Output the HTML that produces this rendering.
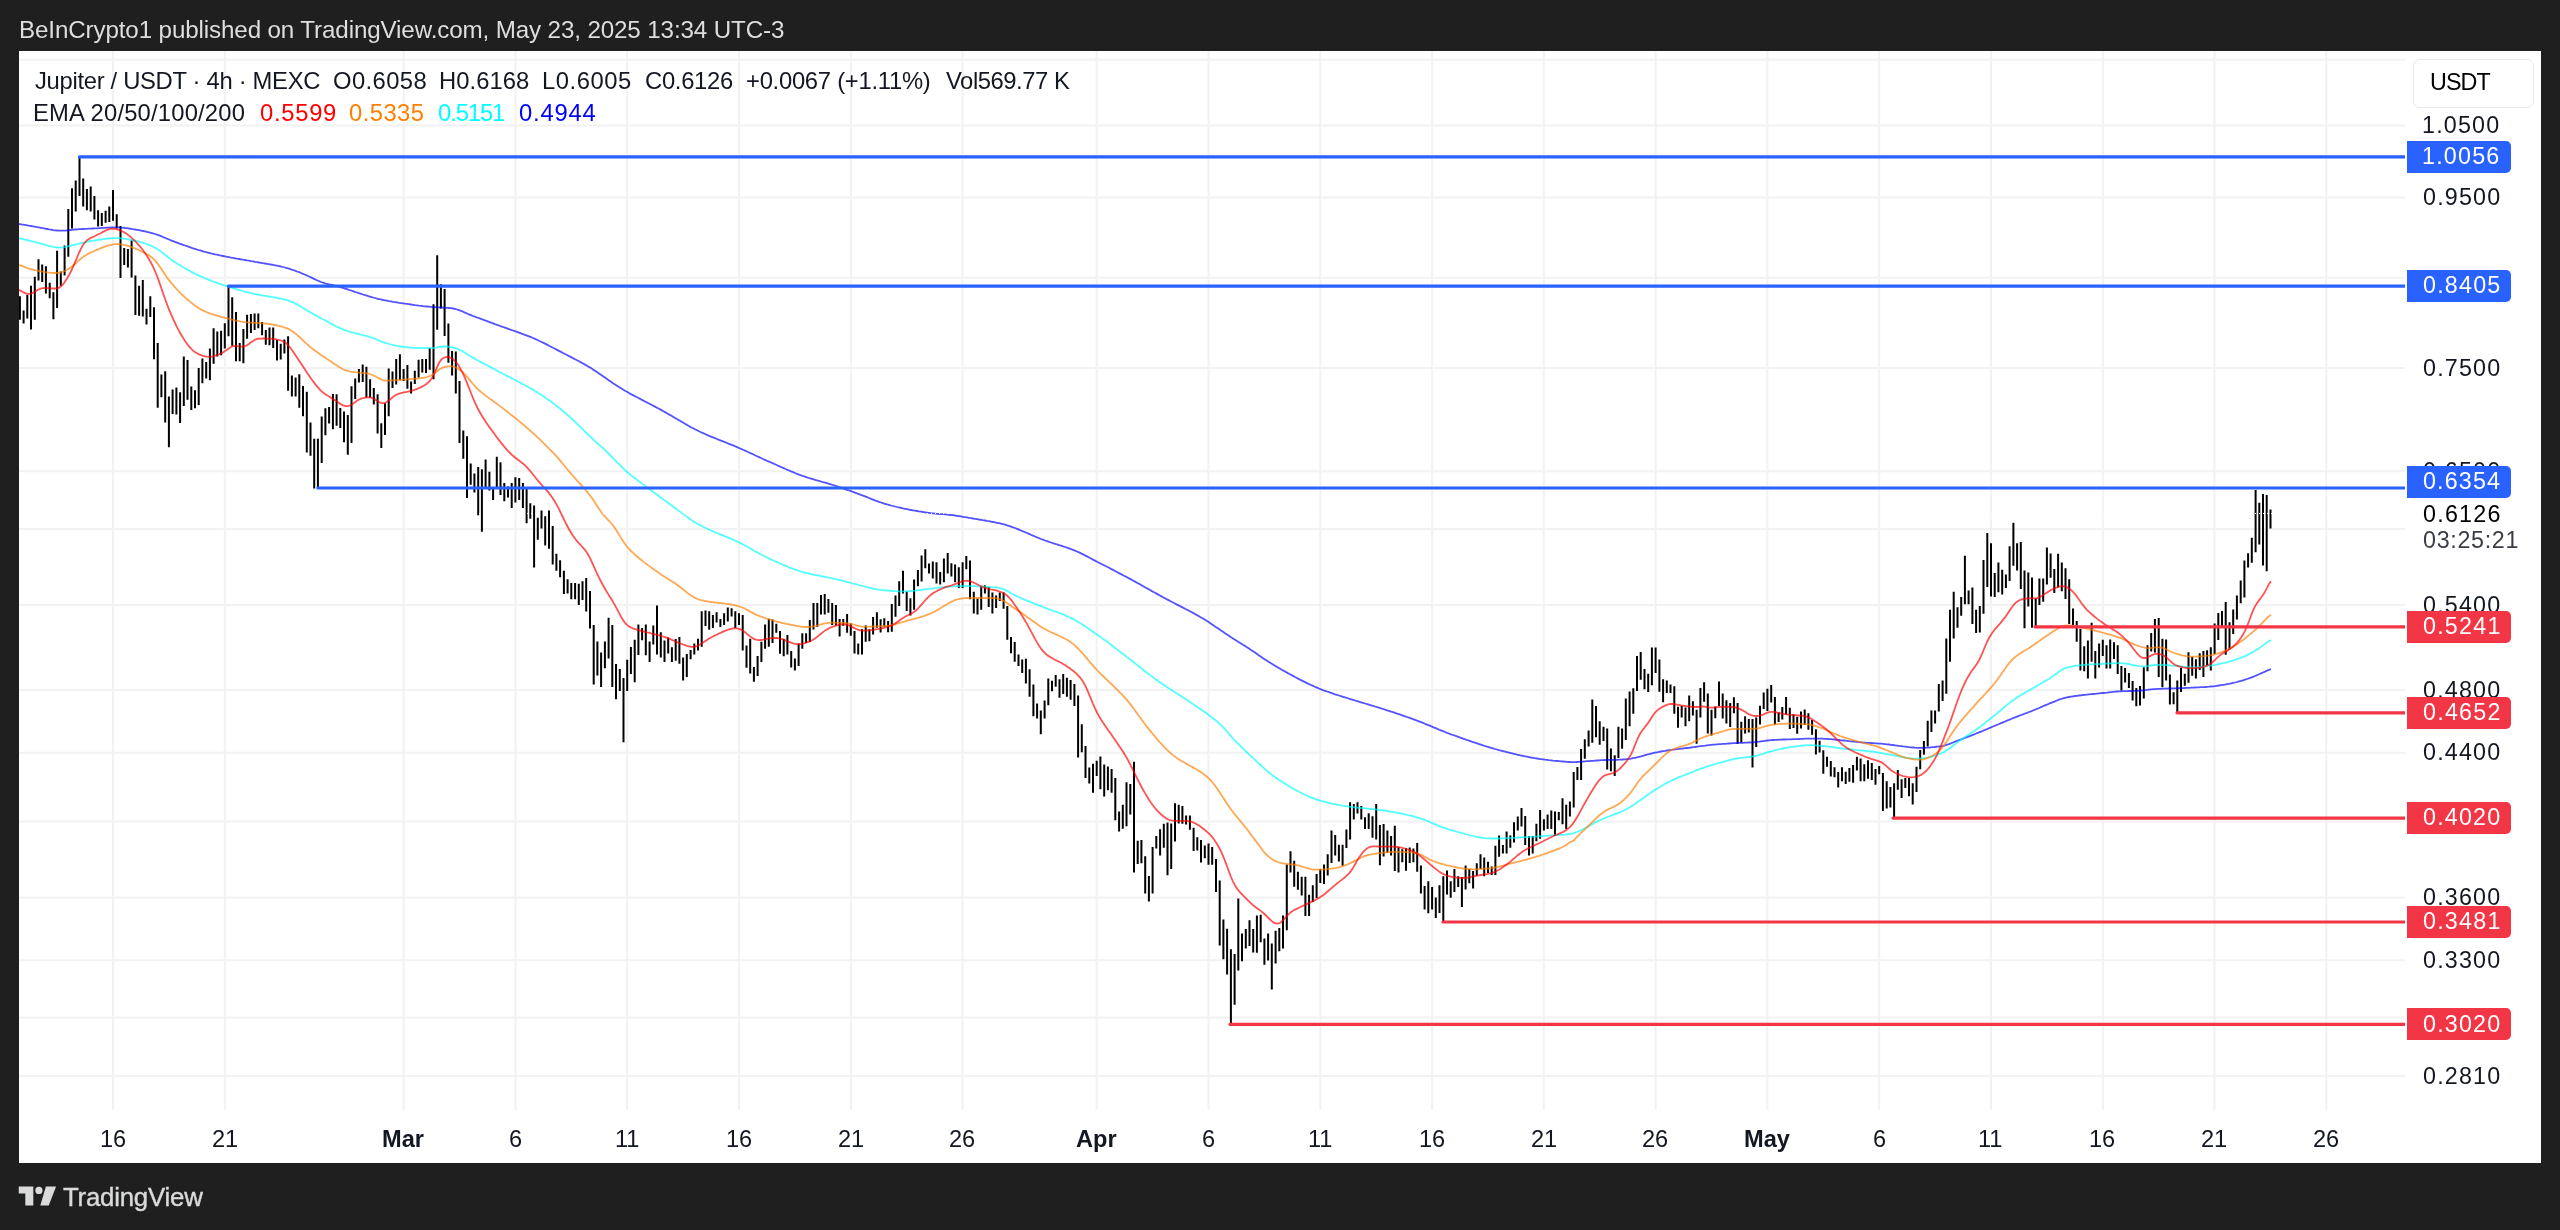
<!DOCTYPE html><html><head><meta charset="utf-8"><style>
*{margin:0;padding:0;box-sizing:border-box}
html,body{width:2560px;height:1230px;overflow:hidden;background:#1f1f1f}
body{position:relative;font-family:"Liberation Sans",sans-serif}
.t{position:absolute;white-space:pre;line-height:1;will-change:transform}
#pane{position:absolute;left:19px;top:51px;width:2522px;height:1112px;background:#fff}
.lab{position:absolute;left:2407px;width:104px;height:32px;border-radius:0 5px 5px 0}
</style></head><body>
<div id="pane"></div>

<div class="t" style="left:18.90px;top:18.31px;font-size:24.2px;letter-spacing:-0.132px;color:#dedede;">BeInCrypto1 published on TradingView.com, May 23, 2025 13:34 UTC-3</div>
<svg width="2560" height="1230" style="position:absolute;left:0;top:0">
<defs><clipPath id="cp"><rect x="19" y="51" width="2386" height="1059"/></clipPath></defs>
<path d="M19 59.8H2405 M19 125.4H2405 M19 197.6H2405 M19 277.8H2405 M19 368.1H2405 M19 471.3H2405 M19 529H2405 M19 605H2405 M19 689.9H2405 M19 752.7H2405 M19 821.4H2405 M19 897.4H2405 M19 960.2H2405 M19 1017.4H2405 M19 1076.1H2405 M113 51V1110 M224.8 51V1110 M403.7 51V1110 M515.5 51V1110 M627.2 51V1110 M739 51V1110 M850.8 51V1110 M962.6 51V1110 M1096.7 51V1110 M1208.5 51V1110 M1320.3 51V1110 M1432.1 51V1110 M1543.8 51V1110 M1655.6 51V1110 M1767.4 51V1110 M1879.2 51V1110 M1991 51V1110 M2102.8 51V1110 M2214.5 51V1110 M2326.3 51V1110" stroke="#f2f2f2" stroke-width="2" fill="none"/>
<g clip-path="url(#cp)">
<path d="M19.9 296.2V319.7 M23.6 310.6V323.6 M27.3 294.9V318.4 M31 285.8V329.6 M34.8 276.7V319.7 M38.5 259.3V280.6 M42.2 264.5V281.9 M45.9 266.3V293.6 M49.7 282.7V298.3 M53.4 292.3V319.2 M57.1 250.7V308 M60.8 271.5V285.8 M64.6 245.5V275.4 M68.3 209V256.7 M72 188.2V228.5 M75.7 180.4V211.6 M79.5 156.1V196 M83.2 178.5V206.4 M86.9 189V210.3 M90.7 186.4V211.6 M94.4 196V219.4 M98.1 210.3V226.5 M101.8 212.9V225.9 M105.6 210.8V222.8 M109.3 206.4V222 M113 190V220.7 M116.7 214.2V228.5 M120.5 225.9V278 M124.2 248.1V265 M127.9 248.9V267.6 M131.6 240.3V277.5 M135.4 275.4V315 M139.1 285.8V315.8 M142.8 280.1V316.6 M146.5 308.8V324.4 M150.3 296.2V317.1 M154 307.2V359.3 M157.7 343.1V407.7 M161.4 374.4V397.3 M165.2 371.2V422.6 M168.9 396.5V447.3 M172.6 389.5V414 M176.4 387.5V414.6 M180.1 392.3V423 M183.8 356.4V406 M187.5 360V399.7 M191.3 386.6V409.9 M195 390.2V408.2 M198.7 368V405 M202.4 358.5V383.2 M206.2 362.1V378.6 M209.9 348.5V380.3 M213.6 328.2V363.8 M217.3 331.6V356.4 M221.1 330.8V355.3 M224.8 323.2V348.5 M228.5 286V336.3 M232.2 297.2V345.8 M236 312V361.2 M239.7 343V361.2 M243.4 328.9V363.3 M247.1 314.7V338.8 M250.9 314.1V333.1 M254.6 313.4V329.9 M258.3 313.4V328.2 M262.1 321.9V335.2 M265.8 329.9V344.7 M269.5 327.4V345.2 M273.2 327.4V347.9 M277 340.1V360.6 M280.7 343.7V359.5 M284.4 339.5V353.6 M288.1 336.3V390.8 M291.9 375.4V396.5 M295.6 377.5V396.5 M299.3 374.3V407.7 M303 386V416.2 M306.8 391.7V452.6 M310.5 422.5V455.7 M314.2 438.8V488.5 M317.9 438.8V488.5 M321.7 416.6V463.1 M325.4 408.2V435.2 M329.1 407.1V423.4 M332.9 394.1V429.3 M336.6 394.3V425.7 M340.3 408V428.1 M344 411.6V442.2 M347.8 415.1V454.7 M351.5 386.3V442.9 M355.2 378.5V399.1 M358.9 369.1V382.5 M362.7 364.4V382.1 M366.4 366.7V397.4 M370.1 379.2V397.4 M373.8 388V404.5 M377.6 394.3V433.5 M381.3 423.3V448.1 M385 403.3V435.1 M388.7 368.4V416.3 M392.5 371.5V388 M396.2 359V384.4 M399.9 354.2V380.2 M403.6 369.1V380.9 M407.4 365.1V388.7 M411.1 381.6V393.4 M414.8 370.8V384 M418.6 359.7V377.4 M422.3 359V372.6 M426 359V373.1 M429.7 347.9V369.8 M433.5 304.2V379.2 M437.2 255.2V329.7 M440.9 284.2V308.5 M444.6 288.9V336.1 M448.4 323.6V362.7 M452.1 350.9V375.5 M455.8 351.4V393.4 M459.5 380.9V442.9 M463.3 430.4V458.7 M467 436.3V498.1 M470.7 463.4V484.7 M474.4 473.6V492.5 M478.2 467V515.3 M481.9 469.3V531.8 M485.6 459.4V488.7 M489.4 471.8V490.4 M493.1 487.8V500 M496.8 456.8V489 M500.5 462.2V495.1 M504.3 482.9V501.2 M508 486.6V497.6 M511.7 482.9V508 M515.4 477.3V502.4 M519.2 478V500 M522.9 482.9V508 M526.6 487.8V523.2 M530.3 503.2V518.8 M534.1 505.6V567.6 M537.8 517.8V539.8 M541.5 510.5V528.5 M545.2 516.3V545.6 M549 510.5V548.8 M552.7 526.1V564.6 M556.4 553.7V570.7 M560.1 560.2V577.3 M563.9 570.7V593.9 M567.6 579.3V593.4 M571.3 582.9V599.3 M575.1 582.9V599.3 M578.8 583.7V604.9 M582.5 581.2V600 M586.2 578V611.5 M590 591V628.5 M593.7 625.1V684.6 M597.4 641.5V675.6 M601.1 652.4V687.1 M604.9 641.5V668.3 M608.6 617.8V658.5 M612.3 625.1V687.1 M616 664.1V699.3 M619.8 669V691 M623.5 678V742.2 M627.2 659.8V691 M630.9 647.1V673.9 M634.7 639.8V682.2 M638.4 624.4V654.9 M642.1 628V640.2 M645.8 624.4V655.2 M649.6 641.5V662 M653.3 625.4V644.4 M657 605.6V654.6 M660.8 632.2V657.6 M664.5 640.5V662 M668.2 637.6V653.4 M671.9 647.3V662 M675.7 639V660.8 M679.4 637.1V663.7 M683.1 657.6V680.5 M686.8 654.1V677.1 M690.6 650V659.2 M694.3 643.4V654.6 M698 638.7V650.4 M701.7 611.2V646.8 M705.5 610.4V625.9 M709.2 611.2V629.8 M712.9 615.1V628 M716.6 612.2V622.4 M720.4 619V627 M724.1 613.2V625.1 M727.8 607.5V621.5 M731.6 608.3V616.6 M735.3 611.2V628 M739 613.2V625.1 M742.7 615.1V650.4 M746.5 645.4V667.8 M750.2 638.7V673.5 M753.9 667V681.7 M757.6 655.9V676.1 M761.4 641.7V662 M765.1 624.4V648.8 M768.8 618.8V646.8 M772.5 619.5V642.9 M776.3 623.7V632.7 M780 630.9V653.7 M783.7 638.7V656.3 M787.4 635.1V654.6 M791.2 651V667.6 M794.9 658.5V670.5 M798.6 643.4V665.9 M802.3 633.2V648.8 M806.1 633.2V642.9 M809.8 620V642 M813.5 602.9V629.6 M817.3 602.9V626.8 M821 595.1V614.6 M824.7 594.1V614.6 M828.4 599V612.7 M832.2 602.9V625.1 M835.9 604.9V625.4 M839.6 619V636.4 M843.3 619V625.7 M847.1 614.1V632.7 M850.8 623.4V635.8 M854.5 630.9V653.4 M858.2 643.4V654.6 M862 629.3V654.6 M865.7 625.4V641.7 M869.4 629.3V641.3 M873.1 617.1V634.4 M876.9 612.2V627.8 M880.6 619.2V632.5 M884.3 618.2V626.8 M888.1 621.1V632.3 M891.8 604V631.7 M895.5 595.5V616.7 M899.2 581.3V605.9 M903 570.7V593.6 M906.7 591.5V610.9 M910.4 598.2V615.4 M914.1 579.5V609.8 M917.9 570V586.2 M921.6 555.6V581.6 M925.3 549.2V568.3 M929 563.6V573.6 M932.8 561.5V578.6 M936.5 562.2V583.4 M940.2 572.1V584.4 M943.9 558.5V582.3 M947.7 553V573.6 M951.4 563.3V576.5 M955.1 564.4V582.3 M958.8 567.2V587.9 M962.6 562.2V587.9 M966.3 555.9V569.3 M970 560.4V599.2 M973.8 591.8V613.5 M977.5 598.5V614.6 M981.2 586.2V609.8 M984.9 585.2V593.6 M988.7 587.1V607 M992.4 592.6V613.5 M996.1 595.5V608 M999.8 592.4V601 M1003.6 592.6V608.8 M1007.3 605.9V639.7 M1011 637V653.3 M1014.7 641.9V661.7 M1018.5 654.5V666 M1022.2 659.6V672.9 M1025.9 658.8V683.5 M1029.6 669.3V696.8 M1033.4 684.6V716.3 M1037.1 703.6V718.4 M1040.8 710.4V734.2 M1044.6 700.4V718.4 M1048.3 678.6V705.3 M1052 680.8V691.3 M1055.7 675.1V686.7 M1059.5 679.3V697.7 M1063.2 674V694.1 M1066.9 677.8V696.8 M1070.6 679.9V699.8 M1074.4 684.1V706.1 M1078.1 695.6V757.5 M1081.8 724.3V752.2 M1085.5 745.9V778 M1089.3 767.4V783.5 M1093 763.8V792.8 M1096.7 760.7V775.9 M1100.4 756.4V789.2 M1104.2 764.5V796.6 M1107.9 766.6V790.3 M1111.6 769.1V792.8 M1115.3 778V820.3 M1119.1 811.4V831.5 M1122.8 804.7V828.8 M1126.5 782.2V826.2 M1130.3 783.9V814.6 M1134 761.7V872.5 M1137.7 840.8V864 M1141.4 839.9V863.2 M1145.2 856.2V893.6 M1148.9 875.9V901.6 M1152.6 847.1V893.6 M1156.3 836.1V848.4 M1160.1 829.3V855.6 M1163.8 823.8V847.7 M1167.5 822.4V875.2 M1171.2 823.4V868.9 M1175 803.3V841.4 M1178.7 804.8V823.4 M1182.4 806.1V823.8 M1186.1 815.4V824.5 M1189.9 815.4V829.8 M1193.6 827.7V850.9 M1197.3 837.2V850.5 M1201 839.9V862.5 M1204.8 845.6V858.3 M1208.5 843.5V864.7 M1212.2 847.1V864.7 M1216 858.9V892.1 M1219.7 880.5V945.6 M1223.4 919.6V959.2 M1227.1 928.7V974.6 M1230.9 949.2V1023 M1234.6 954.1V1004.8 M1238.3 898.5V970.4 M1242 933.4V961.3 M1245.8 929.1V948.6 M1249.5 920.3V946 M1253.2 929.1V952.4 M1256.9 915.4V952.8 M1260.7 914.8V942.2 M1264.4 938.6V964.7 M1268.1 933.4V960.4 M1271.8 943.5V989.4 M1275.6 930.8V963.4 M1279.3 928.1V951.3 M1283 915.4V948.6 M1286.8 864.6V930.3 M1290.5 851.3V872.5 M1294.2 860.8V886.8 M1297.9 871.8V889.7 M1301.7 876.7V895.6 M1305.4 876.7V916 M1309.1 894.8V916 M1312.8 885.3V902 M1316.6 874V898.1 M1320.3 869.3V883.1 M1324 864.6V883.9 M1327.7 854.2V875.4 M1331.5 830.4V863 M1335.2 835V855.6 M1338.9 844.7V861.4 M1342.6 844.7V865.7 M1346.4 829.5V848 M1350.1 802.3V839.6 M1353.8 804.1V819.4 M1357.5 802.3V813.6 M1361.3 805.9V819.6 M1365 817.2V829 M1368.7 813.3V829 M1372.5 816.3V837.7 M1376.2 804.1V839.6 M1379.9 824.9V865.2 M1383.6 824V856.4 M1387.4 830.4V852.8 M1391.1 836.1V855.6 M1394.8 825.7V871 M1398.5 847.3V872.5 M1402.3 849.3V862.2 M1406 848.2V870.7 M1409.7 847.6V863 M1413.4 848.4V862.2 M1417.2 842.9V871.8 M1420.9 865.5V893.4 M1424.6 886V909.4 M1428.3 881.3V913.2 M1432.1 887.1V909.4 M1435.8 897.6V917.9 M1439.5 885.3V912.9 M1443.3 876.3V922.2 M1447 870.5V894.5 M1450.7 881.2V897.8 M1454.4 869.1V892 M1458.2 876.3V887.1 M1461.9 876.9V907 M1465.6 865.6V889.4 M1469.3 869.1V883.2 M1473.1 871.1V888.6 M1476.8 863.3V875.8 M1480.5 854.3V869.1 M1484.2 857.4V876.3 M1488 861.7V873 M1491.7 866.6V875 M1495.4 845.7V875 M1499.1 835.4V856.8 M1502.9 845.1V853.5 M1506.6 831.5V853.5 M1510.3 835.4V847.7 M1514 822.3V842.6 M1517.8 816.4V830.5 M1521.5 808V826.6 M1525.2 815.9V845.1 M1529 836V855.5 M1532.7 836V853.5 M1536.4 823.7V841.2 M1540.1 810V838.7 M1543.9 819.2V830.5 M1547.6 814.5V828.9 M1551.3 810.6V828.9 M1555 811.4V836 M1558.8 812V820.3 M1562.5 798.3V824.2 M1566.2 804.7V828.9 M1569.9 801.6V816.4 M1573.7 772V807.5 M1577.4 767.1V780.1 M1581.1 748.9V780.1 M1584.8 739.2V758.7 M1588.6 730.6V746.6 M1592.3 699.4V742.7 M1596 706V737.2 M1599.7 721.2V744.8 M1603.5 726.7V741 M1607.2 728.4V769.5 M1610.9 748.5V771.2 M1614.7 755.3V776.1 M1618.4 726.7V758 M1622.1 728.4V748.7 M1625.8 698.4V740.1 M1629.6 691.6V726.2 M1633.3 688.3V713.8 M1637 655.9V691 M1640.7 652.1V679.7 M1644.5 669.1V689.2 M1648.2 673.8V692.1 M1651.9 647.5V685.2 M1655.6 647.5V672.9 M1659.4 659.5V691.8 M1663.1 679.3V702.3 M1666.8 680.4V692.9 M1670.5 684.5V692.9 M1674.3 686.3V713.8 M1678 706.7V727.8 M1681.7 706.1V717.4 M1685.5 707.5V726.2 M1689.2 695.4V721.2 M1692.9 701.3V715.5 M1696.6 709.7V743.7 M1700.4 688.1V717.4 M1704.1 682.3V701.7 M1707.8 693.6V733.5 M1711.5 709.7V735.5 M1715.3 706.4V718.2 M1719 681.5V705.9 M1722.7 693.6V718.5 M1726.4 700.2V723.4 M1730.2 703.1V726.9 M1733.9 697.3V713.3 M1737.6 703.1V743.7 M1741.3 721.8V742.6 M1745.1 716.3V733.5 M1748.8 719V732.4 M1752.5 719V767.6 M1756.2 717.4V747 M1760 705.7V724.6 M1763.7 692.4V708.9 M1767.4 688.8V710.9 M1771.2 685V702.6 M1774.9 697.1V724.6 M1778.6 712.4V721.9 M1782.3 706.9V719.5 M1786.1 697.1V714.4 M1789.8 707.7V728.9 M1793.5 714.2V728.1 M1797.2 716.8V733.7 M1801 711.6V728.6 M1804.7 709.5V725 M1808.4 713.3V729.8 M1812.1 719.9V734.8 M1815.9 729.3V754.5 M1819.6 740.7V752.5 M1823.3 750.2V773.8 M1827 756.7V766.7 M1830.8 761.1V776.5 M1834.5 767.3V777.3 M1838.2 772V787.5 M1842 767.3V781.2 M1845.7 771.7V784 M1849.4 767.9V781.7 M1853.1 765.1V782.8 M1856.9 756.7V770.6 M1860.6 758.4V781.2 M1864.3 764.3V781.2 M1868 760.2V778.8 M1871.8 763.1V780 M1875.5 769V784.7 M1879.2 766.1V774.3 M1882.9 772.9V811.1 M1886.7 781.2V808.5 M1890.4 787.1V807.6 M1894.1 783.2V817.7 M1897.8 769.9V789.7 M1901.6 779.3V797.9 M1905.3 778.1V787.9 M1909 778.1V796.2 M1912.7 783.2V804.4 M1916.5 766.8V792 M1920.2 750V769.2 M1923.9 740.9V754.8 M1927.7 720.8V746.4 M1931.4 710.4V732 M1935.1 710.4V723.6 M1938.8 684.1V711.6 M1942.6 680.5V700.9 M1946.3 638.5V693.7 M1950 609.7V661.8 M1953.7 591.7V638.5 M1957.5 607.3V627.7 M1961.2 597V615.7 M1964.9 555.8V604.2 M1968.6 590.5V604.2 M1972.4 587.4V624.1 M1976.1 609.7V633 M1979.8 606.1V632.5 M1983.5 560.1V613.8 M1987.3 533V586.9 M1991 543.3V596.5 M1994.7 573V597 M1998.4 562.5V592.2 M2002.2 569.7V594.6 M2005.9 574.5V588.1 M2009.6 546.2V580.9 M2013.4 522.7V565.8 M2017.1 543.3V570.6 M2020.8 541.9V588.9 M2024.5 570.6V628.2 M2028.3 572.6V606.6 M2032 577.4V627.7 M2035.7 598.5V627.2 M2039.4 578.5V604.9 M2043.2 578.5V601.8 M2046.9 547.4V584.5 M2050.6 553.4V577.8 M2054.3 569V592.9 M2058.1 553.8V587.4 M2061.8 562.5V591.3 M2065.5 568.2V598.9 M2069.2 579.3V624.1 M2073 608.5V625.4 M2076.7 620.9V641.8 M2080.4 628.9V670.5 M2084.2 646.2V671.2 M2087.9 640.5V678.6 M2091.6 622.8V661.7 M2095.3 651.1V678.6 M2099.1 643.4V667.4 M2102.8 639.7V656.1 M2106.5 645.2V668.4 M2110.2 639.5V668.4 M2114 642.3V658.9 M2117.7 645.2V674 M2121.4 665.9V690.6 M2125.1 668V682.5 M2128.9 673V688.1 M2132.6 681.1V700.5 M2136.3 688.1V706.3 M2140 686V705.4 M2143.8 667.2V698.4 M2147.5 645.2V671.2 M2151.2 633.1V651.5 M2154.9 619.1V652.6 M2158.7 618V676.9 M2162.4 638.8V687.3 M2166.1 639.5V680.4 M2169.9 674.6V704.4 M2173.6 692.3V704.2 M2177.3 680.4V713.2 M2181 667.7V692 M2184.8 673.7V685.7 M2188.5 652.2V682.8 M2192.2 656.8V675.8 M2195.9 659.2V678.6 M2199.7 653.2V670.1 M2203.4 651.1V676.9 M2207.1 650.3V665.3 M2210.8 647.3V670.5 M2214.6 623.6V654 M2218.3 613V639.9 M2222 611.1V627.5 M2225.7 602.1V654.7 M2229.5 622.2V649.3 M2233.2 609.4V634.1 M2236.9 595.5V619.6 M2240.7 580.5V603.2 M2244.4 560.4V597.5 M2248.1 553.2V567.4 M2251.8 537.7V562.7 M2255.6 490.1V552.2 M2259.3 502.8V544.5 M2263 494V565.5 M2266.7 495V571.2 M2270.5 509.4V528.4" stroke="#000" stroke-width="2" fill="none"/>
<path d="M19 224 L21 224.3 L23 224.6 L25 224.9 L27 225.3 L29 225.7 L31 226 L33 226.4 L35 226.7 L37 227.1 L39 227.4 L41 227.8 L43 228.2 L45 228.6 L47 229 L49 229.4 L51 229.7 L53 230.1 L55 230.3 L57 230.5 L59 230.7 L61 230.7 L63 230.7 L65 230.6 L67 230.4 L69 230.2 L71 230 L73 229.7 L75 229.5 L77 229.3 L79 229.2 L81 229.1 L83 229 L85 228.9 L87 228.8 L89 228.7 L91 228.6 L93 228.5 L95 228.4 L97 228.3 L99 228.2 L101 228.1 L103 227.9 L105 227.8 L107 227.7 L109 227.6 L111 227.5 L113 227.4 L115 227.4 L117 227.4 L119 227.4 L121 227.6 L123 227.7 L125 228 L127 228.2 L129 228.5 L131 228.8 L133 229.2 L135 229.5 L137 229.8 L139 230.2 L141 230.6 L143 231 L145 231.4 L147 231.9 L149 232.4 L151 232.9 L153 233.4 L155 234 L157 234.7 L159 235.4 L161 236.2 L163 237 L165 237.8 L167 238.7 L169 239.5 L171 240.3 L173 241.1 L175 241.9 L177 242.6 L179 243.4 L181 244.1 L183 244.8 L185 245.5 L187 246.2 L189 246.9 L191 247.6 L193 248.3 L195 248.9 L197 249.5 L199 250.2 L201 250.7 L203 251.3 L205 251.9 L207 252.4 L209 252.9 L211 253.4 L213 253.8 L215 254.3 L217 254.7 L219 255.2 L221 255.6 L223 256 L225 256.4 L227 256.8 L229 257.2 L231 257.6 L233 257.9 L235 258.3 L237 258.7 L239 259 L241 259.3 L243 259.7 L245 260 L247 260.4 L249 260.7 L251 261.1 L253 261.4 L255 261.8 L257 262.1 L259 262.5 L261 262.8 L263 263.2 L265 263.5 L267 263.8 L269 264.2 L271 264.5 L273 264.9 L275 265.3 L277 265.7 L279 266.1 L281 266.5 L283 267 L285 267.5 L287 268.1 L289 268.7 L291 269.3 L293 270 L295 270.7 L297 271.5 L299 272.2 L301 273 L303 273.8 L305 274.7 L307 275.5 L309 276.5 L311 277.4 L313 278.4 L315 279.4 L317 280.3 L319 281.2 L321 282 L323 282.7 L325 283.3 L327 283.8 L329 284.3 L331 284.6 L333 285.1 L335 285.6 L337 286.1 L339 286.7 L341 287.3 L343 287.9 L345 288.6 L347 289.2 L349 289.9 L351 290.5 L353 291.2 L355 291.9 L357 292.5 L359 293.2 L361 293.8 L363 294.5 L365 295.1 L367 295.7 L369 296.4 L371 296.9 L373 297.5 L375 298 L377 298.6 L379 299 L381 299.5 L383 299.9 L385 300.3 L387 300.7 L389 301.1 L391 301.4 L393 301.8 L395 302.1 L397 302.4 L399 302.8 L401 303.1 L403 303.4 L405 303.7 L407 303.9 L409 304.2 L411 304.5 L413 304.8 L415 305.1 L417 305.3 L419 305.6 L421 305.8 L423 306.1 L425 306.3 L427 306.5 L429 306.7 L431 306.9 L433 307.1 L435 307.2 L437 307.3 L439 307.4 L441 307.5 L443 307.6 L445 307.7 L447 307.8 L449 308 L451 308.2 L453 308.5 L455 308.9 L457 309.5 L459 310.1 L461 310.9 L463 311.7 L465 312.6 L467 313.5 L469 314.4 L471 315.2 L473 316 L475 316.7 L477 317.5 L479 318.2 L481 318.9 L483 319.7 L485 320.4 L487 321.1 L489 321.9 L491 322.6 L493 323.3 L495 324.1 L497 324.8 L499 325.5 L501 326.3 L503 327 L505 327.7 L507 328.4 L509 329.1 L511 329.8 L513 330.5 L515 331.2 L517 331.9 L519 332.6 L521 333.4 L523 334.1 L525 334.8 L527 335.6 L529 336.4 L531 337.2 L533 338 L535 338.9 L537 339.8 L539 340.7 L541 341.7 L543 342.6 L545 343.6 L547 344.6 L549 345.7 L551 346.7 L553 347.8 L555 348.8 L557 349.9 L559 350.9 L561 351.9 L563 353 L565 354 L567 355 L569 356.1 L571 357.1 L573 358.1 L575 359.2 L577 360.2 L579 361.3 L581 362.4 L583 363.5 L585 364.6 L587 365.7 L589 366.9 L591 368.1 L593 369.4 L595 370.7 L597 372 L599 373.4 L601 374.8 L603 376.2 L605 377.6 L607 379 L609 380.4 L611 381.8 L613 383.2 L615 384.5 L617 385.8 L619 387.1 L621 388.3 L623 389.5 L625 390.7 L627 391.8 L629 393 L631 394.1 L633 395.1 L635 396.2 L637 397.3 L639 398.3 L641 399.4 L643 400.4 L645 401.5 L647 402.5 L649 403.5 L651 404.5 L653 405.6 L655 406.6 L657 407.7 L659 408.8 L661 409.9 L663 411 L665 412.1 L667 413.2 L669 414.4 L671 415.5 L673 416.7 L675 417.9 L677 419.1 L679 420.3 L681 421.4 L683 422.6 L685 423.8 L687 424.9 L689 426.1 L691 427.2 L693 428.2 L695 429.3 L697 430.3 L699 431.3 L701 432.2 L703 433.1 L705 434 L707 434.9 L709 435.8 L711 436.6 L713 437.4 L715 438.2 L717 439 L719 439.8 L721 440.6 L723 441.4 L725 442.2 L727 443 L729 443.8 L731 444.6 L733 445.4 L735 446.2 L737 447.1 L739 448 L741 448.8 L743 449.7 L745 450.6 L747 451.5 L749 452.5 L751 453.4 L753 454.3 L755 455.3 L757 456.2 L759 457.1 L761 458 L763 459 L765 459.9 L767 460.8 L769 461.6 L771 462.5 L773 463.4 L775 464.3 L777 465.2 L779 466.1 L781 467 L783 467.9 L785 468.8 L787 469.7 L789 470.5 L791 471.4 L793 472.2 L795 473 L797 473.8 L799 474.6 L801 475.3 L803 476 L805 476.7 L807 477.4 L809 478 L811 478.6 L813 479.2 L815 479.8 L817 480.4 L819 480.9 L821 481.5 L823 482.1 L825 482.6 L827 483.2 L829 483.8 L831 484.4 L833 485 L835 485.7 L837 486.3 L839 487 L841 487.7 L843 488.4 L845 489.1 L847 489.8 L849 490.5 L851 491.2 L853 491.9 L855 492.6 L857 493.4 L859 494.1 L861 494.9 L863 495.6 L865 496.4 L867 497.2 L869 498 L871 498.8 L873 499.6 L875 500.4 L877 501.1 L879 501.9 L881 502.5 L883 503.2 L885 503.8 L887 504.4 L889 504.9 L891 505.5 L893 506 L895 506.5 L897 507 L899 507.5 L901 507.9 L903 508.4 L905 508.8 L907 509.2 L909 509.6 L911 510 L913 510.4 L915 510.7 L917 511 L919 511.4 L921 511.7 L923 512 L925 512.3 L927 512.6 L929 512.9 L931 513.2 L933 513.4 L935 513.6 L937 513.8 L939 514 L941 514.1 L943 514.2 L945 514.4 L947 514.6 L949 514.8 L951 515 L953 515.2 L955 515.5 L957 515.8 L959 516.1 L961 516.4 L963 516.8 L965 517.1 L967 517.4 L969 517.8 L971 518.1 L973 518.5 L975 518.8 L977 519.1 L979 519.5 L981 519.8 L983 520.2 L985 520.5 L987 520.9 L989 521.2 L991 521.6 L993 522 L995 522.4 L997 522.8 L999 523.2 L1001 523.7 L1003 524.2 L1005 524.7 L1007 525.3 L1009 525.9 L1011 526.6 L1013 527.3 L1015 528 L1017 528.8 L1019 529.6 L1021 530.5 L1023 531.3 L1025 532.2 L1027 533 L1029 533.9 L1031 534.8 L1033 535.6 L1035 536.5 L1037 537.3 L1039 538.2 L1041 539 L1043 539.7 L1045 540.5 L1047 541.2 L1049 541.9 L1051 542.5 L1053 543.2 L1055 543.8 L1057 544.4 L1059 545.1 L1061 545.7 L1063 546.3 L1065 547 L1067 547.7 L1069 548.4 L1071 549.1 L1073 549.9 L1075 550.7 L1077 551.5 L1079 552.4 L1081 553.4 L1083 554.4 L1085 555.4 L1087 556.4 L1089 557.5 L1091 558.5 L1093 559.6 L1095 560.6 L1097 561.7 L1099 562.7 L1101 563.7 L1103 564.7 L1105 565.8 L1107 566.8 L1109 567.8 L1111 568.9 L1113 569.9 L1115 571 L1117 572 L1119 573.1 L1121 574.1 L1123 575.2 L1125 576.2 L1127 577.3 L1129 578.4 L1131 579.4 L1133 580.5 L1135 581.6 L1137 582.7 L1139 583.8 L1141 584.9 L1143 586.1 L1145 587.2 L1147 588.3 L1149 589.4 L1151 590.6 L1153 591.7 L1155 592.8 L1157 593.9 L1159 595 L1161 596.1 L1163 597.2 L1165 598.3 L1167 599.4 L1169 600.4 L1171 601.5 L1173 602.5 L1175 603.5 L1177 604.6 L1179 605.6 L1181 606.6 L1183 607.6 L1185 608.7 L1187 609.7 L1189 610.7 L1191 611.8 L1193 612.9 L1195 614 L1197 615.1 L1199 616.2 L1201 617.4 L1203 618.6 L1205 619.8 L1207 621.1 L1209 622.3 L1211 623.7 L1213 625 L1215 626.4 L1217 627.7 L1219 629.1 L1221 630.5 L1223 631.8 L1225 633.2 L1227 634.5 L1229 635.8 L1231 637.2 L1233 638.4 L1235 639.7 L1237 641 L1239 642.2 L1241 643.5 L1243 644.8 L1245 646 L1247 647.3 L1249 648.6 L1251 650 L1253 651.3 L1255 652.6 L1257 654 L1259 655.4 L1261 656.8 L1263 658.2 L1265 659.5 L1267 660.8 L1269 662.1 L1271 663.3 L1273 664.5 L1275 665.7 L1277 666.9 L1279 668.1 L1281 669.2 L1283 670.4 L1285 671.5 L1287 672.6 L1289 673.7 L1291 674.8 L1293 675.9 L1295 677 L1297 678 L1299 679.1 L1301 680.1 L1303 681.1 L1305 682.1 L1307 683.1 L1309 684.1 L1311 685 L1313 685.9 L1315 686.8 L1317 687.6 L1319 688.5 L1321 689.3 L1323 690.1 L1325 690.8 L1327 691.5 L1329 692.2 L1331 692.9 L1333 693.6 L1335 694.3 L1337 694.9 L1339 695.5 L1341 696.2 L1343 696.8 L1345 697.4 L1347 698 L1349 698.7 L1351 699.3 L1353 699.9 L1355 700.5 L1357 701.1 L1359 701.7 L1361 702.3 L1363 702.9 L1365 703.5 L1367 704.1 L1369 704.7 L1371 705.3 L1373 705.9 L1375 706.5 L1377 707.1 L1379 707.7 L1381 708.4 L1383 709 L1385 709.6 L1387 710.3 L1389 710.9 L1391 711.6 L1393 712.2 L1395 712.9 L1397 713.6 L1399 714.2 L1401 714.9 L1403 715.6 L1405 716.3 L1407 717 L1409 717.7 L1411 718.4 L1413 719.1 L1415 719.8 L1417 720.6 L1419 721.4 L1421 722.1 L1423 722.9 L1425 723.8 L1427 724.6 L1429 725.4 L1431 726.2 L1433 727.1 L1435 727.9 L1437 728.7 L1439 729.6 L1441 730.4 L1443 731.2 L1445 732 L1447 732.8 L1449 733.5 L1451 734.3 L1453 735 L1455 735.7 L1457 736.4 L1459 737.2 L1461 737.9 L1463 738.6 L1465 739.3 L1467 740 L1469 740.7 L1471 741.4 L1473 742.1 L1475 742.7 L1477 743.4 L1479 744.1 L1481 744.7 L1483 745.4 L1485 746 L1487 746.6 L1489 747.2 L1491 747.8 L1493 748.4 L1495 749 L1497 749.5 L1499 750.1 L1501 750.6 L1503 751.1 L1505 751.6 L1507 752.1 L1509 752.6 L1511 753.1 L1513 753.6 L1515 754.1 L1517 754.6 L1519 755 L1521 755.5 L1523 755.9 L1525 756.3 L1527 756.7 L1529 757.1 L1531 757.5 L1533 757.8 L1535 758.2 L1537 758.5 L1539 758.8 L1541 759.1 L1543 759.4 L1545 759.7 L1547 759.9 L1549 760.2 L1551 760.4 L1553 760.7 L1555 760.9 L1557 761 L1559 761.2 L1561 761.4 L1563 761.5 L1565 761.7 L1567 761.9 L1569 762 L1571 762.1 L1573 762.1 L1575 762.1 L1577 762 L1579 761.9 L1581 761.7 L1583 761.6 L1585 761.4 L1587 761.2 L1589 761.1 L1591 760.9 L1593 760.8 L1595 760.6 L1597 760.5 L1599 760.4 L1601 760.2 L1603 760.1 L1605 760 L1607 760 L1609 759.9 L1611 759.9 L1613 759.8 L1615 759.8 L1617 759.8 L1619 759.7 L1621 759.6 L1623 759.5 L1625 759.4 L1627 759.1 L1629 758.9 L1631 758.6 L1633 758.2 L1635 757.8 L1637 757.4 L1639 756.9 L1641 756.4 L1643 755.8 L1645 755.2 L1647 754.6 L1649 754.1 L1651 753.6 L1653 753.1 L1655 752.7 L1657 752.3 L1659 751.9 L1661 751.5 L1663 751.2 L1665 750.9 L1667 750.5 L1669 750.2 L1671 749.9 L1673 749.7 L1675 749.4 L1677 749.2 L1679 748.9 L1681 748.7 L1683 748.5 L1685 748.2 L1687 748 L1689 747.8 L1691 747.5 L1693 747.2 L1695 747 L1697 746.7 L1699 746.4 L1701 746.1 L1703 745.8 L1705 745.6 L1707 745.3 L1709 745.1 L1711 744.9 L1713 744.7 L1715 744.6 L1717 744.4 L1719 744.2 L1721 744.1 L1723 743.9 L1725 743.8 L1727 743.6 L1729 743.5 L1731 743.4 L1733 743.2 L1735 743.1 L1737 743 L1739 742.9 L1741 742.8 L1743 742.8 L1745 742.7 L1747 742.6 L1749 742.5 L1751 742.4 L1753 742.3 L1755 742.1 L1757 741.9 L1759 741.7 L1761 741.4 L1763 741.1 L1765 740.8 L1767 740.5 L1769 740.3 L1771 740.1 L1773 740 L1775 739.9 L1777 739.8 L1779 739.7 L1781 739.6 L1783 739.5 L1785 739.5 L1787 739.4 L1789 739.4 L1791 739.3 L1793 739.2 L1795 739.1 L1797 739.1 L1799 739 L1801 738.9 L1803 738.8 L1805 738.7 L1807 738.7 L1809 738.6 L1811 738.6 L1813 738.6 L1815 738.6 L1817 738.6 L1819 738.6 L1821 738.6 L1823 738.7 L1825 738.8 L1827 738.8 L1829 739 L1831 739.1 L1833 739.3 L1835 739.5 L1837 739.8 L1839 740 L1841 740.3 L1843 740.5 L1845 740.7 L1847 740.9 L1849 741.2 L1851 741.4 L1853 741.5 L1855 741.7 L1857 741.9 L1859 742.1 L1861 742.3 L1863 742.5 L1865 742.6 L1867 742.8 L1869 742.9 L1871 743 L1873 743.1 L1875 743.3 L1877 743.4 L1879 743.6 L1881 743.7 L1883 743.9 L1885 744.1 L1887 744.3 L1889 744.5 L1891 744.8 L1893 745 L1895 745.3 L1897 745.6 L1899 745.9 L1901 746.1 L1903 746.4 L1905 746.6 L1907 746.8 L1909 747.1 L1911 747.3 L1913 747.5 L1915 747.7 L1917 747.8 L1919 747.9 L1921 747.9 L1923 747.9 L1925 747.8 L1927 747.7 L1929 747.6 L1931 747.4 L1933 747.2 L1935 747 L1937 746.7 L1939 746.5 L1941 746.2 L1943 745.8 L1945 745.3 L1947 744.7 L1949 744.1 L1951 743.3 L1953 742.5 L1955 741.7 L1957 740.9 L1959 740.1 L1961 739.4 L1963 738.6 L1965 737.9 L1967 737.1 L1969 736.3 L1971 735.6 L1973 734.8 L1975 734 L1977 733.2 L1979 732.4 L1981 731.6 L1983 730.8 L1985 729.9 L1987 729.1 L1989 728.2 L1991 727.4 L1993 726.5 L1995 725.7 L1997 724.8 L1999 724 L2001 723.1 L2003 722.3 L2005 721.5 L2007 720.6 L2009 719.8 L2011 719 L2013 718.1 L2015 717.4 L2017 716.6 L2019 715.8 L2021 715 L2023 714.3 L2025 713.5 L2027 712.8 L2029 712 L2031 711.3 L2033 710.5 L2035 709.7 L2037 708.8 L2039 708 L2041 707.1 L2043 706.2 L2045 705.4 L2047 704.6 L2049 703.7 L2051 702.9 L2053 702.1 L2055 701.3 L2057 700.5 L2059 699.7 L2061 699 L2063 698.4 L2065 697.8 L2067 697.4 L2069 697 L2071 696.6 L2073 696.3 L2075 696 L2077 695.8 L2079 695.5 L2081 695.3 L2083 695 L2085 694.8 L2087 694.6 L2089 694.4 L2091 694.2 L2093 694 L2095 693.8 L2097 693.6 L2099 693.4 L2101 693.2 L2103 693 L2105 692.8 L2107 692.6 L2109 692.3 L2111 692.1 L2113 691.9 L2115 691.7 L2117 691.5 L2119 691.4 L2121 691.3 L2123 691.2 L2125 691.1 L2127 691.1 L2129 691 L2131 691 L2133 690.9 L2135 690.8 L2137 690.8 L2139 690.6 L2141 690.5 L2143 690.3 L2145 690.1 L2147 689.9 L2149 689.6 L2151 689.4 L2153 689.2 L2155 689.1 L2157 688.9 L2159 688.8 L2161 688.8 L2163 688.7 L2165 688.7 L2167 688.6 L2169 688.5 L2171 688.5 L2173 688.4 L2175 688.4 L2177 688.3 L2179 688.2 L2181 688.2 L2183 688.1 L2185 688 L2187 687.9 L2189 687.8 L2191 687.7 L2193 687.6 L2195 687.5 L2197 687.4 L2199 687.3 L2201 687.2 L2203 687.1 L2205 687 L2207 686.8 L2209 686.7 L2211 686.5 L2213 686.3 L2215 686.1 L2217 685.8 L2219 685.5 L2221 685.2 L2223 684.9 L2225 684.6 L2227 684.2 L2229 683.8 L2231 683.4 L2233 683 L2235 682.5 L2237 682 L2239 681.4 L2241 680.9 L2243 680.3 L2245 679.6 L2247 679 L2249 678.3 L2251 677.6 L2253 676.8 L2255 676 L2257 675.2 L2259 674.3 L2261 673.4 L2263 672.5 L2265 671.6 L2267 670.6 L2269 669.8 L2271 669.2" stroke="#0000ff" stroke-opacity="0.68" stroke-width="1.8" fill="none" stroke-linejoin="round"/>
<path d="M19 238.4 L21 238.7 L23 239.1 L25 239.6 L27 240.1 L29 240.6 L31 241.1 L33 241.6 L35 242.1 L37 242.6 L39 243.1 L41 243.6 L43 244.2 L45 244.8 L47 245.3 L49 245.9 L51 246.4 L53 246.9 L55 247.2 L57 247.5 L59 247.6 L61 247.6 L63 247.4 L65 247.1 L67 246.7 L69 246.2 L71 245.7 L73 245.1 L75 244.6 L77 244.1 L79 243.6 L81 243.2 L83 242.7 L85 242.3 L87 241.8 L89 241.4 L91 241 L93 240.7 L95 240.3 L97 240 L99 239.7 L101 239.5 L103 239.2 L105 238.9 L107 238.7 L109 238.5 L111 238.3 L113 238.2 L115 238.1 L117 238.1 L119 238.2 L121 238.4 L123 238.6 L125 238.8 L127 239.2 L129 239.5 L131 239.9 L133 240.3 L135 240.8 L137 241.2 L139 241.7 L141 242.2 L143 242.8 L145 243.5 L147 244.2 L149 244.9 L151 245.8 L153 246.7 L155 247.7 L157 248.8 L159 250.2 L161 251.6 L163 253.1 L165 254.7 L167 256.3 L169 257.9 L171 259.5 L173 260.9 L175 262.3 L177 263.6 L179 264.8 L181 266 L183 267.2 L185 268.3 L187 269.4 L189 270.5 L191 271.6 L193 272.6 L195 273.7 L197 274.6 L199 275.6 L201 276.5 L203 277.4 L205 278.3 L207 279.1 L209 279.9 L211 280.7 L213 281.5 L215 282.2 L217 282.9 L219 283.6 L221 284.3 L223 284.9 L225 285.6 L227 286.2 L229 286.9 L231 287.5 L233 288.1 L235 288.7 L237 289.3 L239 289.9 L241 290.5 L243 291 L245 291.6 L247 292.1 L249 292.6 L251 293.1 L253 293.6 L255 294 L257 294.5 L259 294.8 L261 295.2 L263 295.6 L265 295.9 L267 296.2 L269 296.5 L271 296.9 L273 297.2 L275 297.5 L277 297.9 L279 298.3 L281 298.7 L283 299.2 L285 299.6 L287 300.2 L289 300.8 L291 301.6 L293 302.4 L295 303.4 L297 304.5 L299 305.6 L301 306.8 L303 308 L305 309.2 L307 310.4 L309 311.6 L311 312.7 L313 313.9 L315 315 L317 316 L319 317.1 L321 318.2 L323 319.3 L325 320.3 L327 321.4 L329 322.5 L331 323.6 L333 324.7 L335 325.7 L337 326.7 L339 327.6 L341 328.5 L343 329.3 L345 330.1 L347 330.8 L349 331.5 L351 332.1 L353 332.7 L355 333.2 L357 333.7 L359 334.2 L361 334.7 L363 335.1 L365 335.6 L367 336.1 L369 336.7 L371 337.3 L373 338 L375 338.8 L377 339.7 L379 340.5 L381 341.4 L383 342.2 L385 342.9 L387 343.5 L389 344 L391 344.5 L393 345 L395 345.4 L397 345.8 L399 346.1 L401 346.5 L403 346.8 L405 347 L407 347.3 L409 347.4 L411 347.6 L413 347.7 L415 347.8 L417 347.9 L419 348 L421 348 L423 348.1 L425 348.2 L427 348.2 L429 348.2 L431 348.1 L433 348 L435 347.7 L437 347.4 L439 347 L441 346.7 L443 346.5 L445 346.4 L447 346.5 L449 346.8 L451 347.1 L453 347.6 L455 348.1 L457 348.7 L459 349.5 L461 350.5 L463 351.6 L465 352.8 L467 354.1 L469 355.4 L471 356.6 L473 357.7 L475 358.9 L477 360 L479 361 L481 362.1 L483 363.2 L485 364.2 L487 365.3 L489 366.4 L491 367.4 L493 368.5 L495 369.5 L497 370.6 L499 371.7 L501 372.7 L503 373.8 L505 374.8 L507 375.9 L509 376.9 L511 377.9 L513 379 L515 380 L517 381 L519 382 L521 383.1 L523 384.2 L525 385.2 L527 386.3 L529 387.5 L531 388.6 L533 389.8 L535 391 L537 392.3 L539 393.5 L541 394.8 L543 396.1 L545 397.5 L547 398.9 L549 400.3 L551 401.7 L553 403.1 L555 404.6 L557 406.2 L559 407.7 L561 409.3 L563 411 L565 412.7 L567 414.5 L569 416.3 L571 418.1 L573 420 L575 421.9 L577 423.8 L579 425.7 L581 427.7 L583 429.6 L585 431.6 L587 433.5 L589 435.5 L591 437.4 L593 439.4 L595 441.2 L597 443 L599 444.8 L601 446.5 L603 448.3 L605 450.2 L607 452 L609 454 L611 456 L613 458 L615 460.1 L617 462.2 L619 464.2 L621 466.2 L623 468.2 L625 470.1 L627 471.8 L629 473.5 L631 475.2 L633 476.8 L635 478.3 L637 479.9 L639 481.4 L641 482.9 L643 484.4 L645 485.9 L647 487.4 L649 488.9 L651 490.3 L653 491.8 L655 493.3 L657 494.7 L659 496.2 L661 497.7 L663 499.1 L665 500.6 L667 502 L669 503.5 L671 505 L673 506.5 L675 508 L677 509.5 L679 510.9 L681 512.4 L683 513.9 L685 515.4 L687 516.9 L689 518.3 L691 519.7 L693 521 L695 522.3 L697 523.5 L699 524.6 L701 525.7 L703 526.7 L705 527.7 L707 528.7 L709 529.6 L711 530.5 L713 531.3 L715 532.2 L717 533 L719 533.8 L721 534.6 L723 535.4 L725 536.3 L727 537.1 L729 537.9 L731 538.8 L733 539.6 L735 540.5 L737 541.5 L739 542.4 L741 543.4 L743 544.5 L745 545.5 L747 546.6 L749 547.8 L751 548.9 L753 550 L755 551.2 L757 552.3 L759 553.4 L761 554.5 L763 555.5 L765 556.5 L767 557.5 L769 558.4 L771 559.4 L773 560.3 L775 561.2 L777 562.1 L779 563 L781 563.9 L783 564.8 L785 565.6 L787 566.5 L789 567.3 L791 568.1 L793 568.8 L795 569.5 L797 570.2 L799 570.9 L801 571.5 L803 572.1 L805 572.6 L807 573.1 L809 573.6 L811 574.1 L813 574.5 L815 574.9 L817 575.3 L819 575.7 L821 576.1 L823 576.5 L825 576.9 L827 577.3 L829 577.7 L831 578.1 L833 578.5 L835 579 L837 579.5 L839 579.9 L841 580.4 L843 580.9 L845 581.4 L847 582 L849 582.5 L851 583 L853 583.5 L855 584 L857 584.5 L859 585 L861 585.5 L863 586 L865 586.5 L867 587.1 L869 587.6 L871 588.1 L873 588.5 L875 589 L877 589.3 L879 589.6 L881 589.9 L883 590.1 L885 590.3 L887 590.5 L889 590.7 L891 590.9 L893 591 L895 591.2 L897 591.3 L899 591.3 L901 591.4 L903 591.4 L905 591.4 L907 591.3 L909 591.2 L911 591 L913 590.8 L915 590.6 L917 590.3 L919 590.1 L921 589.8 L923 589.5 L925 589.3 L927 589.1 L929 588.8 L931 588.6 L933 588.4 L935 588.1 L937 587.9 L939 587.7 L941 587.5 L943 587.3 L945 587 L947 586.8 L949 586.6 L951 586.5 L953 586.4 L955 586.3 L957 586.2 L959 586.1 L961 586.1 L963 586 L965 586 L967 586.1 L969 586.1 L971 586.1 L973 586.2 L975 586.2 L977 586.3 L979 586.4 L981 586.5 L983 586.6 L985 586.7 L987 586.8 L989 587 L991 587.1 L993 587.3 L995 587.4 L997 587.7 L999 587.9 L1001 588.4 L1003 589 L1005 589.9 L1007 590.9 L1009 592 L1011 593.2 L1013 594.3 L1015 595.4 L1017 596.3 L1019 597.2 L1021 598.1 L1023 598.9 L1025 599.8 L1027 600.6 L1029 601.4 L1031 602.2 L1033 603.1 L1035 603.9 L1037 604.6 L1039 605.4 L1041 606.2 L1043 607 L1045 607.8 L1047 608.6 L1049 609.3 L1051 610 L1053 610.8 L1055 611.5 L1057 612.2 L1059 612.9 L1061 613.7 L1063 614.4 L1065 615.2 L1067 616.1 L1069 617 L1071 617.9 L1073 618.9 L1075 620 L1077 621.2 L1079 622.4 L1081 623.6 L1083 624.9 L1085 626.3 L1087 627.6 L1089 629 L1091 630.4 L1093 631.8 L1095 633.2 L1097 634.6 L1099 636 L1101 637.4 L1103 638.9 L1105 640.3 L1107 641.8 L1109 643.3 L1111 644.8 L1113 646.3 L1115 647.9 L1117 649.4 L1119 650.9 L1121 652.5 L1123 654 L1125 655.5 L1127 657.1 L1129 658.6 L1131 660.2 L1133 661.8 L1135 663.3 L1137 664.9 L1139 666.5 L1141 668.1 L1143 669.7 L1145 671.2 L1147 672.8 L1149 674.3 L1151 675.9 L1153 677.4 L1155 678.8 L1157 680.3 L1159 681.7 L1161 683.1 L1163 684.5 L1165 685.8 L1167 687.1 L1169 688.4 L1171 689.7 L1173 691 L1175 692.3 L1177 693.5 L1179 694.8 L1181 696.1 L1183 697.4 L1185 698.7 L1187 700 L1189 701.3 L1191 702.7 L1193 704 L1195 705.4 L1197 706.8 L1199 708.2 L1201 709.5 L1203 710.9 L1205 712.3 L1207 713.7 L1209 715.2 L1211 716.7 L1213 718.2 L1215 719.8 L1217 721.4 L1219 723.2 L1221 725.1 L1223 727.1 L1225 729.2 L1227 731.5 L1229 733.9 L1231 736.2 L1233 738.5 L1235 740.6 L1237 742.7 L1239 744.7 L1241 746.7 L1243 748.7 L1245 750.6 L1247 752.5 L1249 754.3 L1251 756.2 L1253 758.1 L1255 759.9 L1257 761.8 L1259 763.6 L1261 765.5 L1263 767.4 L1265 769.2 L1267 770.9 L1269 772.5 L1271 774.1 L1273 775.6 L1275 777.1 L1277 778.5 L1279 779.9 L1281 781.2 L1283 782.5 L1285 783.7 L1287 784.9 L1289 786.1 L1291 787.3 L1293 788.5 L1295 789.6 L1297 790.7 L1299 791.8 L1301 792.8 L1303 793.8 L1305 794.8 L1307 795.7 L1309 796.6 L1311 797.4 L1313 798.2 L1315 798.9 L1317 799.6 L1319 800.3 L1321 800.9 L1323 801.4 L1325 801.9 L1327 802.4 L1329 802.9 L1331 803.3 L1333 803.8 L1335 804.2 L1337 804.6 L1339 804.9 L1341 805.3 L1343 805.6 L1345 806 L1347 806.3 L1349 806.6 L1351 806.8 L1353 807.1 L1355 807.4 L1357 807.6 L1359 807.8 L1361 808 L1363 808.2 L1365 808.4 L1367 808.6 L1369 808.8 L1371 809 L1373 809.2 L1375 809.4 L1377 809.6 L1379 809.9 L1381 810.1 L1383 810.4 L1385 810.7 L1387 811 L1389 811.3 L1391 811.7 L1393 812 L1395 812.4 L1397 812.7 L1399 813.1 L1401 813.5 L1403 813.9 L1405 814.4 L1407 814.8 L1409 815.3 L1411 815.7 L1413 816.2 L1415 816.8 L1417 817.4 L1419 818 L1421 818.7 L1423 819.4 L1425 820.1 L1427 820.9 L1429 821.7 L1431 822.6 L1433 823.4 L1435 824.2 L1437 825.1 L1439 825.9 L1441 826.7 L1443 827.4 L1445 828.1 L1447 828.8 L1449 829.5 L1451 830.1 L1453 830.6 L1455 831.2 L1457 831.8 L1459 832.3 L1461 832.9 L1463 833.4 L1465 834 L1467 834.5 L1469 835 L1471 835.5 L1473 836 L1475 836.5 L1477 836.9 L1479 837.3 L1481 837.6 L1483 837.9 L1485 838.1 L1487 838.3 L1489 838.4 L1491 838.5 L1493 838.6 L1495 838.5 L1497 838.5 L1499 838.5 L1501 838.4 L1503 838.4 L1505 838.3 L1507 838.2 L1509 838.1 L1511 838 L1513 837.9 L1515 837.8 L1517 837.7 L1519 837.5 L1521 837.4 L1523 837.3 L1525 837.2 L1527 837.1 L1529 837 L1531 836.9 L1533 836.7 L1535 836.6 L1537 836.5 L1539 836.3 L1541 836.2 L1543 836.1 L1545 835.9 L1547 835.7 L1549 835.6 L1551 835.4 L1553 835.3 L1555 835.1 L1557 835 L1559 835 L1561 834.9 L1563 834.8 L1565 834.7 L1567 834.4 L1569 834.1 L1571 833.8 L1573 833.3 L1575 832.7 L1577 832 L1579 831.2 L1581 830.2 L1583 829.2 L1585 828.2 L1587 827.1 L1589 826 L1591 824.9 L1593 823.8 L1595 822.6 L1597 821.6 L1599 820.6 L1601 819.7 L1603 818.8 L1605 818 L1607 817.2 L1609 816.5 L1611 815.7 L1613 814.9 L1615 814.2 L1617 813.4 L1619 812.6 L1621 811.8 L1623 810.9 L1625 810 L1627 808.9 L1629 807.7 L1631 806.5 L1633 805.2 L1635 803.9 L1637 802.5 L1639 801.1 L1641 799.7 L1643 798.2 L1645 796.8 L1647 795.3 L1649 794 L1651 792.6 L1653 791.3 L1655 790 L1657 788.7 L1659 787.4 L1661 786.2 L1663 785 L1665 783.8 L1667 782.7 L1669 781.7 L1671 780.7 L1673 779.8 L1675 778.9 L1677 778 L1679 777.2 L1681 776.5 L1683 775.7 L1685 775 L1687 774.2 L1689 773.4 L1691 772.6 L1693 771.8 L1695 771 L1697 770.2 L1699 769.4 L1701 768.6 L1703 767.9 L1705 767.2 L1707 766.5 L1709 765.9 L1711 765.3 L1713 764.7 L1715 764.1 L1717 763.5 L1719 762.9 L1721 762.4 L1723 761.8 L1725 761.3 L1727 760.8 L1729 760.2 L1731 759.7 L1733 759.3 L1735 758.9 L1737 758.5 L1739 758.2 L1741 757.9 L1743 757.7 L1745 757.5 L1747 757.2 L1749 757 L1751 756.7 L1753 756.4 L1755 756 L1757 755.6 L1759 755 L1761 754.4 L1763 753.8 L1765 753.1 L1767 752.4 L1769 751.8 L1771 751.3 L1773 750.8 L1775 750.3 L1777 749.8 L1779 749.4 L1781 748.9 L1783 748.5 L1785 748.1 L1787 747.7 L1789 747.4 L1791 747.1 L1793 746.8 L1795 746.5 L1797 746.2 L1799 746 L1801 745.7 L1803 745.5 L1805 745.3 L1807 745.2 L1809 745.1 L1811 745.1 L1813 745.2 L1815 745.3 L1817 745.4 L1819 745.6 L1821 745.8 L1823 746 L1825 746.2 L1827 746.4 L1829 746.7 L1831 746.9 L1833 747.2 L1835 747.5 L1837 747.8 L1839 748 L1841 748.3 L1843 748.5 L1845 748.8 L1847 749 L1849 749.2 L1851 749.5 L1853 749.7 L1855 749.9 L1857 750.1 L1859 750.3 L1861 750.4 L1863 750.6 L1865 750.8 L1867 751 L1869 751.3 L1871 751.5 L1873 751.7 L1875 752 L1877 752.3 L1879 752.6 L1881 753 L1883 753.4 L1885 753.8 L1887 754.1 L1889 754.4 L1891 754.8 L1893 755.2 L1895 755.6 L1897 756 L1899 756.5 L1901 756.9 L1903 757.3 L1905 757.7 L1907 758 L1909 758.2 L1911 758.4 L1913 758.6 L1915 758.6 L1917 758.6 L1919 758.5 L1921 758.4 L1923 758.2 L1925 757.9 L1927 757.6 L1929 757.2 L1931 756.8 L1933 756.2 L1935 755.6 L1937 755 L1939 754.2 L1941 753.4 L1943 752.5 L1945 751.4 L1947 750.1 L1949 748.8 L1951 747.3 L1953 745.7 L1955 744.2 L1957 742.7 L1959 741.2 L1961 739.8 L1963 738.4 L1965 737.1 L1967 735.8 L1969 734.5 L1971 733.1 L1973 731.8 L1975 730.4 L1977 729 L1979 727.6 L1981 726.1 L1983 724.5 L1985 723 L1987 721.4 L1989 719.8 L1991 718.2 L1993 716.6 L1995 715 L1997 713.4 L1999 711.7 L2001 710 L2003 708.3 L2005 706.6 L2007 705 L2009 703.4 L2011 701.8 L2013 700.4 L2015 699 L2017 697.6 L2019 696.3 L2021 695.1 L2023 693.9 L2025 692.7 L2027 691.5 L2029 690.4 L2031 689.2 L2033 688.1 L2035 686.9 L2037 685.8 L2039 684.7 L2041 683.5 L2043 682.4 L2045 681.3 L2047 680.1 L2049 678.9 L2051 677.6 L2053 676.1 L2055 674.7 L2057 673.2 L2059 671.7 L2061 670.4 L2063 669.3 L2065 668.3 L2067 667.6 L2069 667.1 L2071 666.6 L2073 666.2 L2075 665.9 L2077 665.6 L2079 665.4 L2081 665.1 L2083 665 L2085 664.8 L2087 664.7 L2089 664.5 L2091 664.4 L2093 664.3 L2095 664.2 L2097 664.1 L2099 664.1 L2101 664 L2103 663.9 L2105 663.7 L2107 663.6 L2109 663.5 L2111 663.4 L2113 663.3 L2115 663.2 L2117 663.1 L2119 663.1 L2121 663.1 L2123 663.3 L2125 663.5 L2127 663.8 L2129 664.2 L2131 664.6 L2133 665 L2135 665.4 L2137 665.8 L2139 666.1 L2141 666.3 L2143 666.4 L2145 666.3 L2147 666.1 L2149 665.8 L2151 665.5 L2153 665.2 L2155 665 L2157 664.9 L2159 664.9 L2161 664.9 L2163 665 L2165 665.1 L2167 665.2 L2169 665.3 L2171 665.5 L2173 665.6 L2175 665.8 L2177 666 L2179 666.2 L2181 666.5 L2183 666.7 L2185 666.9 L2187 667.1 L2189 667.3 L2191 667.4 L2193 667.4 L2195 667.3 L2197 667.2 L2199 667 L2201 666.8 L2203 666.6 L2205 666.3 L2207 666.1 L2209 665.8 L2211 665.5 L2213 665.2 L2215 664.9 L2217 664.5 L2219 664.1 L2221 663.7 L2223 663.2 L2225 662.8 L2227 662.3 L2229 661.7 L2231 661.2 L2233 660.6 L2235 659.9 L2237 659.2 L2239 658.5 L2241 657.7 L2243 656.9 L2245 656.1 L2247 655.1 L2249 654.1 L2251 653.1 L2253 652 L2255 650.8 L2257 649.5 L2259 648.2 L2261 646.8 L2263 645.4 L2265 643.9 L2267 642.4 L2269 641.1 L2271 640.1" stroke="#00ffff" stroke-opacity="0.68" stroke-width="1.8" fill="none" stroke-linejoin="round"/>
<path d="M19 265 L21 265.6 L23 266.4 L25 267.2 L27 268 L29 268.7 L31 269.2 L33 269.7 L35 270.2 L37 270.6 L39 271 L41 271.4 L43 271.7 L45 272.1 L47 272.3 L49 272.6 L51 272.8 L53 272.9 L55 273 L57 273 L59 272.8 L61 272.4 L63 271.7 L65 270.8 L67 269.8 L69 268.6 L71 267.2 L73 265.7 L75 264 L77 262.1 L79 260.3 L81 258.6 L83 257.1 L85 255.7 L87 254.5 L89 253.4 L91 252.4 L93 251.5 L95 250.6 L97 249.8 L99 249 L101 248.2 L103 247.4 L105 246.6 L107 245.9 L109 245.3 L111 244.8 L113 244.4 L115 244.2 L117 244.1 L119 244.2 L121 244.4 L123 244.7 L125 245.1 L127 245.6 L129 246.2 L131 246.8 L133 247.6 L135 248.4 L137 249.3 L139 250.3 L141 251.2 L143 252.2 L145 253.2 L147 254.3 L149 255.5 L151 256.8 L153 258.4 L155 260.4 L157 262.8 L159 265.5 L161 268.5 L163 271.6 L165 274.6 L167 277.4 L169 280.1 L171 282.6 L173 285 L175 287.3 L177 289.5 L179 291.6 L181 293.6 L183 295.5 L185 297.3 L187 299.1 L189 300.8 L191 302.4 L193 304 L195 305.5 L197 306.9 L199 308.2 L201 309.4 L203 310.4 L205 311.4 L207 312.3 L209 313 L211 313.8 L213 314.4 L215 315.1 L217 315.7 L219 316.2 L221 316.8 L223 317.3 L225 317.8 L227 318.4 L229 318.9 L231 319.4 L233 319.9 L235 320.4 L237 320.8 L239 321.2 L241 321.6 L243 321.8 L245 322.1 L247 322.3 L249 322.5 L251 322.6 L253 322.7 L255 322.9 L257 323 L259 323.1 L261 323.2 L263 323.4 L265 323.5 L267 323.7 L269 324 L271 324.3 L273 324.6 L275 325 L277 325.4 L279 325.9 L281 326.4 L283 327 L285 327.7 L287 328.4 L289 329.3 L291 330.4 L293 331.7 L295 333.2 L297 334.8 L299 336.6 L301 338.5 L303 340.4 L305 342.3 L307 344.2 L309 346 L311 347.6 L313 349.2 L315 350.7 L317 352.1 L319 353.5 L321 354.9 L323 356.2 L325 357.6 L327 358.9 L329 360.3 L331 361.6 L333 363 L335 364.3 L337 365.6 L339 366.9 L341 368.1 L343 369.2 L345 370.1 L347 370.7 L349 371.2 L351 371.6 L353 371.9 L355 372.2 L357 372.4 L359 372.6 L361 372.8 L363 373 L365 373.2 L367 373.5 L369 373.9 L371 374.5 L373 375.2 L375 376.2 L377 377.3 L379 378.4 L381 379.4 L383 380.1 L385 380.5 L387 380.6 L389 380.6 L391 380.5 L393 380.4 L395 380.2 L397 380.1 L399 379.9 L401 379.8 L403 379.6 L405 379.5 L407 379.4 L409 379.2 L411 379.1 L413 378.9 L415 378.8 L417 378.6 L419 378.4 L421 378.1 L423 377.8 L425 377.5 L427 377 L429 376.4 L431 375.5 L433 374.4 L435 372.9 L437 371.3 L439 369.7 L441 368.5 L443 367.5 L445 366.9 L447 366.5 L449 366.3 L451 366.3 L453 366.5 L455 367.2 L457 368.1 L459 369.4 L461 370.9 L463 372.7 L465 374.6 L467 376.8 L469 379.2 L471 381.6 L473 384 L475 386.2 L477 388.3 L479 390.2 L481 391.9 L483 393.5 L485 395.1 L487 396.6 L489 398.1 L491 399.6 L493 401 L495 402.5 L497 403.9 L499 405.4 L501 406.9 L503 408.4 L505 410 L507 411.5 L509 413.1 L511 414.7 L513 416.2 L515 417.8 L517 419.4 L519 421.1 L521 422.7 L523 424.4 L525 426.1 L527 427.8 L529 429.6 L531 431.3 L533 433.1 L535 434.9 L537 436.8 L539 438.7 L541 440.6 L543 442.6 L545 444.6 L547 446.6 L549 448.6 L551 450.6 L553 452.7 L555 454.8 L557 456.9 L559 459.2 L561 461.6 L563 464 L565 466.5 L567 469 L569 471.4 L571 473.7 L573 476 L575 478.2 L577 480.5 L579 482.7 L581 484.9 L583 487.1 L585 489.3 L587 491.6 L589 494.1 L591 496.7 L593 499.6 L595 502.6 L597 505.7 L599 508.8 L601 511.7 L603 514.4 L605 516.7 L607 518.8 L609 520.8 L611 523 L613 525.4 L615 528.2 L617 531.3 L619 534.6 L621 537.9 L623 541.1 L625 544 L627 546.7 L629 549 L631 551 L633 552.9 L635 554.7 L637 556.5 L639 558.2 L641 559.8 L643 561.4 L645 562.9 L647 564.4 L649 565.9 L651 567.4 L653 568.8 L655 570.2 L657 571.6 L659 573 L661 574.4 L663 575.7 L665 577.1 L667 578.3 L669 579.6 L671 580.7 L673 581.9 L675 583.2 L677 584.7 L679 586.2 L681 587.7 L683 589.4 L685 591 L687 592.6 L689 594.1 L691 595.5 L693 596.8 L695 597.9 L697 598.8 L699 599.5 L701 600.1 L703 600.5 L705 601 L707 601.3 L709 601.7 L711 602 L713 602.2 L715 602.5 L717 602.7 L719 603 L721 603.2 L723 603.4 L725 603.7 L727 603.9 L729 604.2 L731 604.5 L733 604.9 L735 605.3 L737 605.8 L739 606.3 L741 607 L743 607.8 L745 608.8 L747 609.8 L749 610.9 L751 612.1 L753 613.1 L755 614.1 L757 615.1 L759 615.9 L761 616.6 L763 617.3 L765 618 L767 618.7 L769 619.3 L771 619.9 L773 620.5 L775 621.1 L777 621.6 L779 622.1 L781 622.6 L783 623.1 L785 623.5 L787 624 L789 624.4 L791 624.8 L793 625.2 L795 625.6 L797 626 L799 626.3 L801 626.6 L803 626.8 L805 627 L807 627 L809 627 L811 626.8 L813 626.4 L815 626 L817 625.5 L819 624.9 L821 624.3 L823 623.8 L825 623.4 L827 623.1 L829 622.8 L831 622.7 L833 622.7 L835 622.7 L837 622.8 L839 622.8 L841 622.9 L843 623 L845 623.1 L847 623.3 L849 623.6 L851 623.9 L853 624.4 L855 625 L857 625.6 L859 626.1 L861 626.4 L863 626.6 L865 626.7 L867 626.7 L869 626.6 L871 626.6 L873 626.5 L875 626.5 L877 626.4 L879 626.3 L881 626.2 L883 626.1 L885 625.9 L887 625.8 L889 625.6 L891 625.3 L893 624.9 L895 624.3 L897 623.7 L899 623.1 L901 622.5 L903 621.8 L905 621.3 L907 620.7 L909 620.2 L911 619.7 L913 619.2 L915 618.6 L917 618.1 L919 617.5 L921 616.9 L923 616.3 L925 615.6 L927 614.9 L929 614.1 L931 613.3 L933 612.3 L935 611.4 L937 610.2 L939 609 L941 607.7 L943 606.5 L945 605.3 L947 604.2 L949 603 L951 601.9 L953 601 L955 600.2 L957 599.5 L959 599 L961 598.6 L963 598.3 L965 598.1 L967 598 L969 598 L971 598 L973 598 L975 598 L977 598 L979 598 L981 598 L983 598 L985 598 L987 598 L989 598 L991 598 L993 598 L995 598.1 L997 598.3 L999 598.8 L1001 599.5 L1003 600.5 L1005 601.6 L1007 603 L1009 604.4 L1011 605.8 L1013 607.2 L1015 608.5 L1017 609.9 L1019 611.2 L1021 612.6 L1023 614 L1025 615.4 L1027 616.9 L1029 618.3 L1031 619.8 L1033 621.2 L1035 622.6 L1037 624 L1039 625.4 L1041 626.7 L1043 627.9 L1045 629.1 L1047 630.2 L1049 631.2 L1051 632.2 L1053 633.1 L1055 634 L1057 634.9 L1059 635.8 L1061 636.7 L1063 637.7 L1065 638.7 L1067 639.8 L1069 641 L1071 642.4 L1073 643.9 L1075 645.6 L1077 647.5 L1079 649.5 L1081 651.7 L1083 653.9 L1085 656.2 L1087 658.6 L1089 661 L1091 663.3 L1093 665.6 L1095 667.8 L1097 670 L1099 672.1 L1101 674.1 L1103 676 L1105 678 L1107 679.9 L1109 681.8 L1111 683.7 L1113 685.6 L1115 687.6 L1117 689.5 L1119 691.6 L1121 693.6 L1123 695.7 L1125 697.9 L1127 700.2 L1129 702.6 L1131 705.1 L1133 707.8 L1135 710.5 L1137 713.2 L1139 716 L1141 718.8 L1143 721.6 L1145 724.3 L1147 726.9 L1149 729.4 L1151 731.8 L1153 734.2 L1155 736.6 L1157 739 L1159 741.3 L1161 743.5 L1163 745.7 L1165 747.8 L1167 749.8 L1169 751.7 L1171 753.4 L1173 755.1 L1175 756.6 L1177 758.1 L1179 759.4 L1181 760.7 L1183 761.8 L1185 763 L1187 764.1 L1189 765.2 L1191 766.3 L1193 767.4 L1195 768.5 L1197 769.7 L1199 770.9 L1201 772.2 L1203 773.6 L1205 775.2 L1207 776.8 L1209 778.6 L1211 780.7 L1213 783 L1215 785.6 L1217 788.4 L1219 791.3 L1221 794.4 L1223 797.5 L1225 800.6 L1227 803.6 L1229 806.5 L1231 809.3 L1233 812 L1235 814.5 L1237 817 L1239 819.5 L1241 821.9 L1243 824.3 L1245 826.8 L1247 829.3 L1249 831.9 L1251 834.6 L1253 837.3 L1255 839.9 L1257 842.6 L1259 845.3 L1261 848.1 L1263 850.8 L1265 853.1 L1267 855.2 L1269 856.9 L1271 858.5 L1273 859.8 L1275 860.9 L1277 861.8 L1279 862.5 L1281 863 L1283 863.4 L1285 863.7 L1287 863.9 L1289 864.1 L1291 864.3 L1293 864.5 L1295 864.8 L1297 865.2 L1299 865.7 L1301 866.3 L1303 866.9 L1305 867.5 L1307 868.2 L1309 868.7 L1311 869.2 L1313 869.5 L1315 869.7 L1317 869.7 L1319 869.7 L1321 869.6 L1323 869.5 L1325 869.3 L1327 869.1 L1329 868.9 L1331 868.7 L1333 868.4 L1335 868.1 L1337 867.7 L1339 867.3 L1341 866.7 L1343 866.1 L1345 865.3 L1347 864.6 L1349 863.7 L1351 862.9 L1353 861.9 L1355 860.9 L1357 859.8 L1359 858.7 L1361 857.6 L1363 856.7 L1365 855.9 L1367 855.3 L1369 854.8 L1371 854.4 L1373 854.1 L1375 853.8 L1377 853.5 L1379 853.2 L1381 853 L1383 852.7 L1385 852.5 L1387 852.3 L1389 852.1 L1391 852 L1393 851.8 L1395 851.8 L1397 851.7 L1399 851.8 L1401 851.8 L1403 851.9 L1405 852 L1407 852.1 L1409 852.3 L1411 852.4 L1413 852.6 L1415 852.9 L1417 853.3 L1419 854 L1421 854.8 L1423 855.8 L1425 857 L1427 858.1 L1429 859.2 L1431 860.2 L1433 861 L1435 861.7 L1437 862.4 L1439 863.1 L1441 863.7 L1443 864.2 L1445 864.8 L1447 865.3 L1449 865.7 L1451 866.2 L1453 866.6 L1455 867 L1457 867.4 L1459 867.8 L1461 868.2 L1463 868.5 L1465 868.8 L1467 869 L1469 869.2 L1471 869.2 L1473 869.3 L1475 869.3 L1477 869.2 L1479 869.1 L1481 869 L1483 868.9 L1485 868.7 L1487 868.5 L1489 868.3 L1491 868.1 L1493 867.9 L1495 867.5 L1497 867.2 L1499 866.7 L1501 866.2 L1503 865.6 L1505 865 L1507 864.5 L1509 863.9 L1511 863.4 L1513 862.8 L1515 862.3 L1517 861.8 L1519 861.4 L1521 860.9 L1523 860.4 L1525 859.8 L1527 859.3 L1529 858.7 L1531 858.2 L1533 857.6 L1535 857 L1537 856.4 L1539 855.8 L1541 855.1 L1543 854.5 L1545 853.8 L1547 853.1 L1549 852.4 L1551 851.7 L1553 850.9 L1555 850.2 L1557 849.4 L1559 848.6 L1561 847.7 L1563 846.8 L1565 845.8 L1567 844.5 L1569 842.7 L1574 840.4 L1576 838 L1578 835.8 L1580 833.8 L1582 831.9 L1584 830.1 L1586 828.2 L1588 826.3 L1590 824.4 L1592 822.4 L1594 820.4 L1596 818.4 L1598 816.5 L1600 814.8 L1602 813.2 L1604 811.8 L1606 810.5 L1608 809.4 L1610 808.5 L1612 807.5 L1614 806.6 L1616 805.5 L1618 804.4 L1620 803 L1622 801.5 L1624 799.7 L1626 797.8 L1628 795.7 L1630 793.4 L1632 790.8 L1634 787.9 L1636 784.9 L1638 782 L1640 779.5 L1642 777.2 L1644 775.2 L1646 773.2 L1648 771.3 L1650 769.4 L1652 767.4 L1654 765.4 L1656 763.4 L1658 761.4 L1660 759.4 L1662 757.4 L1664 755.6 L1666 753.8 L1668 752.3 L1670 750.9 L1672 749.8 L1674 748.9 L1676 748.1 L1678 747.5 L1680 746.9 L1682 746.3 L1684 745.7 L1686 745.1 L1688 744.4 L1690 743.6 L1692 742.8 L1694 741.8 L1696 740.8 L1698 739.7 L1700 738.7 L1702 737.8 L1704 737 L1706 736.3 L1708 735.6 L1710 735 L1712 734.4 L1714 733.9 L1716 733.3 L1718 732.8 L1720 732.2 L1722 731.6 L1724 731 L1726 730.4 L1728 729.9 L1730 729.5 L1732 729.2 L1734 729 L1736 728.9 L1738 728.8 L1740 728.8 L1742 728.8 L1744 728.8 L1746 728.8 L1748 728.8 L1750 728.8 L1752 728.8 L1754 728.7 L1756 728.6 L1758 728.3 L1760 727.8 L1762 727.3 L1764 726.7 L1766 726.1 L1768 725.6 L1770 725.1 L1772 724.8 L1774 724.5 L1776 724.3 L1778 724.1 L1780 723.9 L1782 723.8 L1784 723.7 L1786 723.6 L1788 723.6 L1790 723.6 L1792 723.6 L1794 723.7 L1796 723.7 L1798 723.8 L1800 723.9 L1802 724 L1804 724.1 L1806 724.2 L1808 724.4 L1810 724.7 L1812 725.1 L1814 725.6 L1816 726.2 L1818 726.8 L1820 727.5 L1822 728.2 L1824 729 L1826 729.8 L1828 730.7 L1830 731.7 L1832 732.6 L1834 733.5 L1836 734.4 L1838 735.2 L1840 736 L1842 736.7 L1844 737.4 L1846 738 L1848 738.6 L1850 739.2 L1852 739.8 L1854 740.4 L1856 740.9 L1858 741.5 L1860 742 L1862 742.5 L1864 743.1 L1866 743.6 L1868 744.1 L1870 744.6 L1872 745.1 L1874 745.7 L1876 746.2 L1878 746.9 L1880 747.6 L1882 748.4 L1884 749.2 L1886 750 L1888 750.7 L1890 751.6 L1892 752.4 L1894 753.3 L1896 754.2 L1898 755 L1900 755.9 L1902 756.6 L1904 757.2 L1906 757.8 L1908 758.2 L1910 758.7 L1912 759 L1914 759.4 L1916 759.6 L1918 759.7 L1920 759.7 L1922 759.6 L1924 759.2 L1926 758.7 L1928 757.9 L1930 757 L1932 756 L1934 754.8 L1936 753.5 L1938 752 L1940 750.2 L1942 748 L1944 745.5 L1946 742.6 L1948 739.5 L1950 736.3 L1952 733.2 L1954 730.2 L1956 727.4 L1958 724.8 L1960 722.3 L1962 719.9 L1964 717.5 L1966 715.2 L1968 712.9 L1970 710.6 L1972 708.3 L1974 706.1 L1976 703.9 L1978 701.6 L1980 699.4 L1982 697.3 L1984 695.1 L1986 693 L1988 690.8 L1990 688.6 L1992 686.3 L1994 684 L1996 681.5 L1998 678.8 L2000 676 L2002 673.1 L2004 670.2 L2006 667.3 L2008 664.6 L2010 662.1 L2012 659.9 L2014 658 L2016 656.4 L2018 654.9 L2020 653.6 L2022 652.3 L2024 651.1 L2026 649.9 L2028 648.7 L2030 647.5 L2032 646.1 L2034 644.8 L2036 643.3 L2038 641.9 L2040 640.4 L2042 639 L2044 637.6 L2046 636.3 L2048 634.9 L2050 633.6 L2052 632.3 L2054 631 L2056 629.7 L2058 628.4 L2060 627.3 L2062 626.4 L2064 625.8 L2066 625.4 L2068 625.3 L2070 625.4 L2072 625.6 L2074 625.9 L2076 626.3 L2078 626.7 L2080 627.1 L2082 627.6 L2084 628 L2086 628.4 L2088 628.9 L2090 629.3 L2092 629.8 L2094 630.3 L2096 630.9 L2098 631.4 L2100 631.9 L2102 632.5 L2104 633 L2106 633.6 L2108 634.1 L2110 634.7 L2112 635.3 L2114 635.9 L2116 636.5 L2118 637.2 L2120 637.9 L2122 638.7 L2124 639.6 L2126 640.5 L2128 641.5 L2130 642.5 L2132 643.4 L2134 644.3 L2136 645.1 L2138 645.8 L2140 646.5 L2142 647 L2144 647.5 L2146 647.9 L2148 648.1 L2150 648.1 L2152 647.9 L2154 647.7 L2156 647.4 L2158 647.3 L2160 647.3 L2162 647.6 L2164 648.3 L2166 649.2 L2168 650.2 L2170 651.2 L2172 652.2 L2174 653 L2176 653.7 L2178 654.2 L2180 654.8 L2182 655.3 L2184 655.7 L2186 656.1 L2188 656.4 L2190 656.6 L2192 656.7 L2194 656.7 L2196 656.6 L2198 656.5 L2200 656.4 L2202 656.3 L2204 656.1 L2206 655.9 L2208 655.7 L2210 655.4 L2212 655 L2214 654.6 L2216 654.1 L2218 653.4 L2220 652.7 L2222 652 L2224 651.2 L2226 650.3 L2228 649.4 L2230 648.4 L2232 647.3 L2234 646.1 L2236 644.9 L2238 643.5 L2240 642.1 L2242 640.7 L2244 639.2 L2246 637.6 L2248 636 L2250 634.4 L2252 632.6 L2254 630.9 L2256 629 L2258 627.1 L2260 625.2 L2262 623.2 L2264 621.1 L2266 619 L2268 617 L2270 615.4 L2271 614.8" stroke="#ff7f00" stroke-opacity="0.68" stroke-width="1.8" fill="none" stroke-linejoin="round"/>
<path d="M19 289.9 L21 290.9 L23 292.1 L25 293.1 L27 293.8 L29 293.9 L31 293.6 L33 292.7 L35 291.6 L37 290.4 L39 289.3 L41 288.5 L43 288.1 L45 288 L47 288.1 L49 288.2 L51 288.4 L53 288.5 L55 288.5 L57 288.3 L59 287.7 L61 286.3 L63 284.3 L65 281.6 L67 278.5 L69 275 L71 271.3 L73 267 L75 262.4 L77 257.6 L79 252.8 L81 248.6 L83 245 L85 242.3 L87 240.3 L89 238.9 L91 237.8 L93 236.9 L95 236 L97 235 L99 234 L101 233 L103 231.9 L105 230.9 L107 229.9 L109 229.2 L111 228.8 L113 228.7 L115 228.8 L117 229.3 L119 229.9 L121 230.7 L123 231.7 L125 232.8 L127 234.1 L129 235.6 L131 237.3 L133 239.1 L135 241 L137 243.1 L139 245.3 L141 247.7 L143 250.3 L145 253.1 L147 256.1 L149 259.3 L151 262.8 L153 266.7 L155 271 L157 276 L159 281.4 L161 287.2 L163 293.1 L165 298.8 L167 304.2 L169 309.3 L171 314.1 L173 318.7 L175 323 L177 327.1 L179 330.9 L181 334.5 L183 337.8 L185 340.9 L187 343.8 L189 346.4 L191 348.7 L193 350.6 L195 352.1 L197 353.3 L199 354.4 L201 355.2 L203 355.9 L205 356.4 L207 356.7 L209 356.8 L211 356.6 L213 356.3 L215 355.7 L217 355.1 L219 354.3 L221 353.4 L223 352.4 L225 351.1 L227 349.7 L229 348.3 L231 347 L233 346.2 L235 346 L237 346.1 L239 346.4 L241 346.7 L243 346.7 L245 346.2 L247 345.3 L249 343.9 L251 342.3 L253 340.9 L255 339.7 L257 339 L259 338.7 L261 338.6 L263 338.5 L265 338.5 L267 338.6 L269 338.6 L271 338.7 L273 338.9 L275 339.2 L277 339.5 L279 340 L281 340.5 L283 341.3 L285 342.4 L287 344 L289 346.1 L291 348.7 L293 351.5 L295 354.5 L297 357.4 L299 360.4 L301 363.4 L303 366.5 L305 369.6 L307 372.7 L309 375.6 L311 378.5 L313 381.2 L315 383.9 L317 386.4 L319 388.7 L321 390.8 L323 392.6 L325 394 L327 395.3 L329 396.5 L331 397.7 L333 399 L335 400.3 L337 401.6 L339 403 L341 404.4 L343 405.4 L345 406 L347 406.1 L349 405.8 L351 405 L353 403.8 L355 402.3 L357 400.8 L359 399.6 L361 398.7 L363 398.1 L365 397.7 L367 397.4 L369 397.4 L371 397.7 L373 398.3 L375 399.4 L377 400.8 L379 402 L381 402.9 L383 403.2 L385 402.8 L387 401.8 L389 400.3 L391 398.7 L393 397 L395 395.6 L397 394.4 L399 393.6 L401 393.1 L403 392.6 L405 392.2 L407 391.9 L409 391.4 L411 390.9 L413 390.3 L415 389.7 L417 388.9 L419 388.1 L421 387.1 L423 386.1 L425 384.9 L427 383.5 L429 381.7 L431 379.4 L433 376.1 L435 371.9 L437 367.2 L439 363 L441 360 L443 358.2 L445 357.3 L447 357 L449 357.2 L451 358 L453 359.2 L455 361 L457 363.3 L459 366.2 L461 369.7 L463 373.7 L465 378 L467 382.8 L469 387.8 L471 393 L473 398 L475 402.7 L477 407 L479 410.8 L481 414.3 L483 417.6 L485 420.7 L487 423.7 L489 426.6 L491 429.3 L493 432.1 L495 434.8 L497 437.5 L499 440.1 L501 442.7 L503 445.1 L505 447.5 L507 449.8 L509 452 L511 454 L513 455.8 L515 457.5 L517 459 L519 460.5 L521 462 L523 463.6 L525 465.3 L527 467.3 L529 469.6 L531 472 L533 474.5 L535 477 L537 479.5 L539 481.9 L541 484.2 L543 486.4 L545 488.5 L547 490.7 L549 493.1 L551 495.8 L553 498.7 L555 501.9 L557 505.4 L559 509.2 L561 513.3 L563 517.5 L565 521.6 L567 525.5 L569 529.2 L571 532.5 L573 535.7 L575 538.5 L577 541.1 L579 543.4 L581 545.5 L583 547.6 L585 550 L587 552.8 L589 556.2 L591 560.2 L593 564.6 L595 569.1 L597 573.5 L599 577.6 L601 581.5 L603 585.2 L605 588.7 L607 592.1 L609 595.4 L611 598.6 L613 601.9 L615 605.4 L617 609.1 L619 612.9 L621 616.7 L623 620.1 L625 622.8 L627 624.9 L629 626.4 L631 627.5 L633 628.4 L635 629.1 L637 629.7 L639 630.3 L641 630.8 L643 631.3 L645 631.8 L647 632.3 L649 632.7 L651 633.3 L653 633.8 L655 634.3 L657 634.8 L659 635.3 L661 635.9 L663 636.5 L665 637.1 L667 637.8 L669 638.6 L671 639.5 L673 640.4 L675 641.3 L677 642.1 L679 642.9 L681 643.7 L683 644.5 L685 645.2 L687 645.9 L689 646.4 L691 646.8 L693 646.9 L695 646.6 L697 646.1 L699 645.1 L701 643.9 L703 642.6 L705 641.2 L707 639.9 L709 638.6 L711 637.5 L713 636.5 L715 635.5 L717 634.5 L719 633.5 L721 632.6 L723 631.6 L725 630.8 L727 630 L729 629.4 L731 628.8 L733 628.4 L735 628.2 L737 628.3 L739 628.8 L741 629.6 L743 630.8 L745 632.3 L747 633.9 L749 635.6 L751 637.1 L753 638.4 L755 639.4 L757 639.9 L759 640.1 L761 640 L763 639.7 L765 639.3 L767 638.9 L769 638.6 L771 638.2 L773 638 L775 637.9 L777 638 L779 638.3 L781 638.8 L783 639.5 L785 640.2 L787 641.1 L789 641.9 L791 642.7 L793 643.3 L795 643.8 L797 644.1 L799 644.2 L801 644 L803 643.7 L805 643.1 L807 642.4 L809 641.6 L811 640.7 L813 639.7 L815 638.4 L817 637 L819 635.4 L821 633.7 L823 632.1 L825 630.6 L827 629.4 L829 628.3 L831 627.4 L833 626.6 L835 625.9 L837 625.3 L839 624.8 L841 624.5 L843 624.3 L845 624.4 L847 624.8 L849 625.5 L851 626.4 L853 627.4 L855 628.4 L857 629.3 L859 630 L861 630.4 L863 630.6 L865 630.6 L867 630.5 L869 630.3 L871 630.1 L873 629.8 L875 629.5 L877 629.1 L879 628.8 L881 628.4 L883 628 L885 627.6 L887 627 L889 626.4 L891 625.7 L893 624.7 L895 623.5 L897 622.2 L899 620.7 L901 619.3 L903 618 L905 616.8 L907 615.8 L909 614.8 L911 613.8 L913 612.6 L915 611.2 L917 609.5 L919 607.4 L921 605.2 L923 602.8 L925 600.5 L927 598.3 L929 596.4 L931 594.8 L933 593.3 L935 592.1 L937 590.9 L939 589.9 L941 589 L943 588.2 L945 587.4 L947 586.7 L949 586.1 L951 585.5 L953 584.8 L955 584.1 L957 583.3 L959 582.5 L961 581.8 L963 581.2 L965 580.9 L967 580.8 L969 581.1 L971 581.6 L973 582.3 L975 583.2 L977 584.2 L979 585.2 L981 586.2 L983 587 L985 587.8 L987 588.4 L989 588.9 L991 589.4 L993 589.8 L995 590.2 L997 590.7 L999 591.3 L1001 592 L1003 592.8 L1005 594 L1007 595.5 L1009 597.5 L1011 599.8 L1013 602.4 L1015 605.2 L1017 608.1 L1019 611.1 L1021 614.1 L1023 617.2 L1025 620.5 L1027 623.9 L1029 627.6 L1031 631.4 L1033 635.1 L1035 638.9 L1037 642.4 L1039 645.7 L1041 648.6 L1043 651.1 L1045 653.2 L1047 654.9 L1049 656.3 L1051 657.6 L1053 658.8 L1055 659.8 L1057 660.8 L1059 661.8 L1061 662.8 L1063 663.9 L1065 665.1 L1067 666.4 L1069 667.8 L1071 669.2 L1073 670.8 L1075 672.4 L1077 674.2 L1079 676.3 L1081 678.7 L1083 681.6 L1085 685.2 L1087 689.4 L1089 694.1 L1091 698.9 L1093 703.8 L1095 708.3 L1097 712.5 L1099 716.1 L1101 719.5 L1103 722.6 L1105 725.5 L1107 728.4 L1109 731.3 L1111 734.1 L1113 737 L1115 739.9 L1117 742.8 L1119 745.7 L1121 748.7 L1123 751.8 L1125 755 L1127 758.4 L1129 762 L1131 765.9 L1133 770 L1135 774.1 L1137 778.2 L1139 782.2 L1141 786 L1143 789.7 L1145 793.1 L1147 796.5 L1149 799.7 L1151 802.7 L1153 805.5 L1155 808 L1157 810.3 L1159 812.3 L1161 814.3 L1163 816 L1165 817.6 L1167 818.9 L1169 819.8 L1171 820.4 L1173 820.7 L1175 820.8 L1177 820.9 L1179 820.9 L1181 820.9 L1183 820.9 L1185 820.9 L1187 821 L1189 821.3 L1191 821.7 L1193 822.4 L1195 823.3 L1197 824.4 L1199 825.6 L1201 827 L1203 828.5 L1205 830.1 L1207 831.8 L1209 833.6 L1211 835.7 L1213 838.1 L1215 840.9 L1217 844 L1219 847.5 L1221 851.4 L1223 855.9 L1225 860.9 L1227 866.3 L1229 871.8 L1231 877 L1233 881.6 L1235 885.4 L1237 888.6 L1239 891.2 L1241 893.4 L1243 895.4 L1245 897.3 L1247 899.3 L1249 901.3 L1251 903.3 L1253 905.1 L1255 906.7 L1257 908.2 L1259 909.6 L1261 911.1 L1263 912.8 L1265 914.5 L1267 916.5 L1269 918.5 L1271 920.4 L1273 922.1 L1275 923.2 L1277 923.7 L1279 923.4 L1281 922.2 L1283 920.4 L1285 918.2 L1287 915.9 L1289 913.9 L1291 912.1 L1293 910.8 L1295 909.6 L1297 908.6 L1299 907.7 L1301 906.8 L1303 905.8 L1305 904.9 L1307 903.9 L1309 903 L1311 902.1 L1313 901.1 L1315 900.1 L1317 899 L1319 897.9 L1321 896.6 L1323 895.2 L1325 893.7 L1327 892 L1329 890.3 L1331 888.6 L1333 886.8 L1335 885.1 L1337 883.5 L1339 881.9 L1341 880.4 L1343 878.9 L1345 877.2 L1347 875.4 L1349 873.4 L1351 870.9 L1353 867.9 L1355 864.5 L1357 860.9 L1359 857.6 L1361 854.7 L1363 852.2 L1365 850.1 L1367 848.5 L1369 847.3 L1371 846.7 L1373 846.4 L1375 846.4 L1377 846.5 L1379 846.5 L1381 846.6 L1383 846.6 L1385 846.6 L1387 846.7 L1389 846.7 L1391 846.7 L1393 846.7 L1395 846.8 L1397 847 L1399 847.2 L1401 847.6 L1403 848 L1405 848.5 L1407 849.1 L1409 849.8 L1411 850.5 L1413 851.4 L1415 852.5 L1417 853.7 L1419 855.1 L1421 856.6 L1423 858.2 L1425 859.9 L1427 861.6 L1429 863.4 L1431 865.1 L1433 866.8 L1435 868.4 L1437 869.9 L1439 871.4 L1441 872.8 L1443 873.9 L1445 874.8 L1447 875.6 L1449 876.1 L1451 876.6 L1453 877 L1455 877.3 L1457 877.6 L1459 877.8 L1461 878 L1463 878 L1465 878 L1467 877.8 L1469 877.4 L1471 877 L1473 876.5 L1475 876.1 L1477 875.7 L1479 875.3 L1481 875 L1483 874.7 L1485 874.4 L1487 874.1 L1489 873.7 L1491 873.2 L1493 872.6 L1495 871.8 L1497 870.8 L1499 869.7 L1501 868.4 L1503 867.1 L1505 865.7 L1507 864.2 L1509 862.7 L1511 861.1 L1513 859.3 L1515 857.6 L1517 855.8 L1519 854.2 L1521 852.7 L1523 851.3 L1525 850.1 L1527 849 L1529 847.9 L1531 847 L1533 846 L1535 845.1 L1537 844.1 L1539 843.2 L1541 842.2 L1543 841.3 L1545 840.3 L1547 839.3 L1549 838.3 L1551 837.3 L1553 836.3 L1555 835.3 L1557 834.5 L1559 833.7 L1561 832.9 L1563 832 L1565 830.9 L1567 829.5 L1569 827.9 L1571 825.9 L1573 823.4 L1575 820.5 L1577 817.2 L1579 813.7 L1581 810.1 L1583 806.4 L1585 802.8 L1587 799.4 L1589 795.9 L1591 792.5 L1593 789.2 L1595 786.1 L1597 783.1 L1599 780.5 L1601 778.3 L1603 776.5 L1605 775.3 L1607 774.6 L1609 774.1 L1611 773.7 L1613 773.1 L1615 772.2 L1617 771 L1619 769.4 L1621 767.5 L1623 765.4 L1625 763.2 L1627 760.7 L1629 757.8 L1631 754.4 L1633 750.1 L1635 745 L1637 740 L1639 735.6 L1641 732.2 L1643 729.5 L1645 727 L1647 724.4 L1649 721.5 L1651 718.4 L1653 715.3 L1655 712.7 L1657 710.6 L1659 709 L1661 707.7 L1663 706.6 L1665 705.6 L1667 704.8 L1669 704.2 L1671 703.9 L1673 704 L1675 704.3 L1677 704.6 L1679 705 L1681 705.4 L1683 705.7 L1685 706 L1687 706.3 L1689 706.5 L1691 706.7 L1693 706.9 L1695 707 L1697 707 L1699 706.8 L1701 706.5 L1703 706.4 L1705 706.6 L1707 707.1 L1709 707.4 L1711 707.6 L1713 707.6 L1715 707.4 L1717 707.2 L1719 707 L1721 706.8 L1723 706.8 L1725 706.7 L1727 706.8 L1729 706.9 L1731 707 L1733 707.2 L1735 707.4 L1737 707.9 L1739 708.6 L1741 709.5 L1743 710.6 L1745 711.8 L1747 713.1 L1749 714.2 L1751 715.1 L1753 715.7 L1755 716 L1757 716 L1759 715.7 L1761 715.2 L1763 714.6 L1765 713.7 L1767 712.9 L1769 712.1 L1771 711.8 L1773 711.8 L1775 712.1 L1777 712.5 L1779 713 L1781 713.4 L1783 713.8 L1785 714.1 L1787 714.3 L1789 714.6 L1791 714.8 L1793 715 L1795 715.2 L1797 715.4 L1799 715.5 L1801 715.7 L1803 715.9 L1805 716.3 L1807 716.8 L1809 717.6 L1811 718.6 L1813 719.9 L1815 721.2 L1817 722.5 L1819 723.9 L1821 725.3 L1823 726.7 L1825 728.2 L1827 729.9 L1829 731.6 L1831 733.5 L1833 735.4 L1835 737.4 L1837 739.5 L1839 741.4 L1841 743.3 L1843 745.1 L1845 746.6 L1847 748 L1849 749.2 L1851 750.3 L1853 751.3 L1855 752.3 L1857 753.2 L1859 754 L1861 754.9 L1863 755.7 L1865 756.6 L1867 757.4 L1869 758.1 L1871 758.8 L1873 759.4 L1875 760 L1877 760.6 L1879 761.3 L1881 762.1 L1883 763.3 L1885 764.9 L1887 766.7 L1889 768.5 L1891 770.2 L1893 771.6 L1895 772.8 L1897 773.7 L1899 774.5 L1901 775.3 L1903 776 L1905 776.5 L1907 776.9 L1909 777.2 L1911 777.3 L1913 777.2 L1915 776.9 L1917 776.4 L1919 775.8 L1921 774.9 L1923 773.6 L1925 772 L1927 770 L1929 767.7 L1931 765 L1933 762.1 L1935 758.7 L1937 754.8 L1939 750.4 L1941 745.8 L1943 740.8 L1945 735.7 L1947 730.5 L1949 725.2 L1951 719.6 L1953 713.8 L1955 708 L1957 702.2 L1959 696.7 L1961 691.5 L1963 686.8 L1965 682.5 L1967 678.6 L1969 675.2 L1971 672.1 L1973 669.3 L1975 666.6 L1977 663.7 L1979 660.3 L1981 656.2 L1983 651.5 L1985 646.6 L1987 642 L1989 638 L1991 634.7 L1993 631.8 L1995 629.3 L1997 626.9 L1999 624.6 L2001 622.3 L2003 619.9 L2005 617.4 L2007 614.6 L2009 611.6 L2011 608.5 L2013 605.7 L2015 603.4 L2017 601.7 L2019 600.5 L2021 599.7 L2023 599.1 L2025 598.7 L2027 598.5 L2029 598.4 L2031 598.4 L2033 598.4 L2035 598.4 L2037 598.1 L2039 597.4 L2041 596.4 L2043 595.2 L2045 593.8 L2047 592.4 L2049 591.2 L2051 590.1 L2053 589.1 L2055 588.2 L2057 587.4 L2059 586.7 L2061 586.3 L2063 586.2 L2065 586.6 L2067 587.4 L2069 588.5 L2071 590 L2073 591.9 L2075 594.1 L2077 596.8 L2079 599.6 L2081 602.5 L2083 605.2 L2085 607.6 L2087 609.8 L2089 611.8 L2091 613.6 L2093 615.3 L2095 617 L2097 618.6 L2099 620.1 L2101 621.6 L2103 623 L2105 624.4 L2107 625.7 L2109 626.9 L2111 628.2 L2113 629.4 L2115 630.7 L2117 632 L2119 633.5 L2121 635.1 L2123 636.9 L2125 638.9 L2127 640.9 L2129 643.2 L2131 645.6 L2133 648.2 L2135 650.8 L2137 653.4 L2139 655.5 L2141 657.1 L2143 658 L2145 658.1 L2147 657.6 L2149 656.6 L2151 655.5 L2153 654.6 L2155 653.9 L2157 653.7 L2159 653.9 L2161 654.4 L2163 655.2 L2165 656.4 L2167 657.9 L2169 659.8 L2171 661.7 L2173 663.4 L2175 664.7 L2177 665.6 L2179 666.3 L2181 666.8 L2183 667.3 L2185 667.7 L2187 668 L2189 668.2 L2191 668.2 L2193 668.2 L2195 668.1 L2197 667.9 L2199 667.7 L2201 667.3 L2203 666.8 L2205 666.3 L2207 665.6 L2209 664.7 L2211 663.5 L2213 661.8 L2215 659.9 L2217 657.9 L2219 656.1 L2221 654.5 L2223 653.2 L2225 652 L2227 650.9 L2229 649.6 L2231 648.3 L2233 646.7 L2235 644.9 L2237 642.8 L2239 640.4 L2241 637.8 L2243 634.6 L2245 630.9 L2247 626.4 L2249 621.2 L2251 615.7 L2253 610.6 L2255 606.4 L2257 603.1 L2259 600.4 L2261 597.8 L2263 595 L2265 591.6 L2267 587.8 L2269 584.1 L2271 581.2" stroke="#ff0000" stroke-opacity="0.68" stroke-width="1.8" fill="none" stroke-linejoin="round"/>
<path d="M79.5 156.9H2410" stroke="#2962ff" stroke-width="3.2" stroke-linecap="round" fill="none"/>
<path d="M228.5 286.2H2410" stroke="#2962ff" stroke-width="3.2" stroke-linecap="round" fill="none"/>
<path d="M317.9 488H2410" stroke="#2962ff" stroke-width="3.2" stroke-linecap="round" fill="none"/>
<path d="M2035 626.8H2410" stroke="#f23645" stroke-width="3.2" stroke-linecap="round" fill="none"/>
<path d="M2177 712.8H2410" stroke="#f23645" stroke-width="3.2" stroke-linecap="round" fill="none"/>
<path d="M1893 818.1H2410" stroke="#f23645" stroke-width="3.2" stroke-linecap="round" fill="none"/>
<path d="M1443 922H2410" stroke="#f23645" stroke-width="3.2" stroke-linecap="round" fill="none"/>
<path d="M1230 1024.4H2410" stroke="#f23645" stroke-width="3.2" stroke-linecap="round" fill="none"/>
<path d="M19 513.6H2405" stroke="#fff" stroke-width="1" stroke-dasharray="1 3" fill="none"/>
</g>
</svg>
<div class="t" style="left:34.50px;top:69.35px;font-size:23.8px;letter-spacing:-0.308px;color:#131722;">Jupiter / USDT · 4h · MEXC</div>
<div class="t" style="left:333.20px;top:69.35px;font-size:23.8px;letter-spacing:0.405px;color:#131722;">O0.6058</div>
<div class="t" style="left:438.90px;top:69.35px;font-size:23.8px;letter-spacing:0.059px;color:#131722;">H0.6168</div>
<div class="t" style="left:542.10px;top:69.35px;font-size:23.8px;letter-spacing:0.551px;color:#131722;">L0.6005</div>
<div class="t" style="left:644.80px;top:69.35px;font-size:23.8px;letter-spacing:-0.291px;color:#131722;">C0.6126</div>
<div class="t" style="left:745.90px;top:69.35px;font-size:23.8px;letter-spacing:-0.270px;color:#131722;">+0.0067 (+1.11%)</div>
<div class="t" style="left:945.60px;top:69.35px;font-size:23.8px;letter-spacing:-0.449px;color:#131722;">Vol569.77 K</div>
<div class="t" style="left:33.30px;top:101.35px;font-size:23.8px;letter-spacing:0.178px;color:#131722;">EMA 20/50/100/200</div>
<div class="t" style="left:260.00px;top:101.35px;font-size:23.8px;letter-spacing:0.708px;color:#ff0000;">0.5599</div>
<div class="t" style="left:349.20px;top:101.35px;font-size:23.8px;letter-spacing:0.448px;color:#ff7f00;">0.5335</div>
<div class="t" style="left:437.80px;top:101.35px;font-size:23.8px;letter-spacing:-1.092px;color:#00ffff;">0.5151</div>
<div class="t" style="left:519.00px;top:101.35px;font-size:23.8px;letter-spacing:0.768px;color:#0000ff;">0.4944</div>
<div style="position:absolute;left:2413px;top:59px;width:121px;height:49px;border:1px solid #e8e8e8;border-radius:7px;background:#fff"></div>
<div class="t" style="left:2429.70px;top:71.48px;font-size:23.3px;letter-spacing:-0.898px;color:#000;">USDT</div>
<div class="t" style="left:2422.30px;top:113.99px;font-size:23.3px;letter-spacing:1.179px;color:#131722;">1.0500</div>
<div class="t" style="left:2422.70px;top:186.17px;font-size:23.3px;letter-spacing:1.179px;color:#131722;">0.9500</div>
<div class="t" style="left:2422.70px;top:356.65px;font-size:23.3px;letter-spacing:1.179px;color:#131722;">0.7500</div>
<div class="t" style="left:2422.70px;top:459.86px;font-size:23.3px;letter-spacing:1.179px;color:#131722;">0.6500</div>
<div class="t" style="left:2422.70px;top:593.57px;font-size:23.3px;letter-spacing:1.179px;color:#131722;">0.5400</div>
<div class="t" style="left:2422.70px;top:678.52px;font-size:23.3px;letter-spacing:1.179px;color:#131722;">0.4800</div>
<div class="t" style="left:2422.70px;top:741.27px;font-size:23.3px;letter-spacing:1.179px;color:#131722;">0.4400</div>
<div class="t" style="left:2422.70px;top:885.99px;font-size:23.3px;letter-spacing:1.179px;color:#131722;">0.3600</div>
<div class="t" style="left:2422.70px;top:948.74px;font-size:23.3px;letter-spacing:1.179px;color:#131722;">0.3300</div>
<div class="t" style="left:2422.70px;top:1064.67px;font-size:23.3px;letter-spacing:1.179px;color:#131722;">0.2810</div>
<div class="t" style="left:2422.50px;top:502.58px;font-size:23.3px;letter-spacing:1.239px;color:#000;">0.6126</div>
<div class="t" style="left:2422.50px;top:528.68px;font-size:23.3px;letter-spacing:0.680px;color:#3a3d45;">03:25:21</div>
<div class="lab" style="top:140.6px;background:#2962ff"></div>
<div class="t" style="left:2422.30px;top:145.15px;font-size:23.3px;letter-spacing:1.199px;color:#fff;">1.0056</div>
<div class="lab" style="top:269.9px;background:#2962ff"></div>
<div class="t" style="left:2422.70px;top:274.49px;font-size:23.3px;letter-spacing:1.199px;color:#fff;">0.8405</div>
<div class="lab" style="top:465.7px;background:#2962ff"></div>
<div class="t" style="left:2422.70px;top:470.24px;font-size:23.3px;letter-spacing:1.139px;color:#fff;">0.6354</div>
<div class="lab" style="top:610.5px;background:#f23645"></div>
<div class="t" style="left:2422.70px;top:615.12px;font-size:23.3px;letter-spacing:1.219px;color:#fff;">0.5241</div>
<div class="lab" style="top:696.5px;background:#f23645"></div>
<div class="t" style="left:2422.70px;top:701.10px;font-size:23.3px;letter-spacing:1.239px;color:#fff;">0.4652</div>
<div class="lab" style="top:801.8px;background:#f23645"></div>
<div class="t" style="left:2422.70px;top:806.41px;font-size:23.3px;letter-spacing:1.179px;color:#fff;">0.4020</div>
<div class="lab" style="top:905.7px;background:#f23645"></div>
<div class="t" style="left:2422.70px;top:910.23px;font-size:23.3px;letter-spacing:1.219px;color:#fff;">0.3481</div>
<div class="lab" style="top:1008.1px;background:#f23645"></div>
<div class="t" style="left:2422.70px;top:1012.69px;font-size:23.3px;letter-spacing:1.179px;color:#fff;">0.3020</div>
<div class="t" style="left:99.58px;top:1127.92px;font-size:23.6px;letter-spacing:0.000px;color:#131722;">16</div>
<div class="t" style="left:211.71px;top:1127.92px;font-size:23.6px;letter-spacing:-0.000px;color:#131722;">21</div>
<div class="t" style="left:382.08px;top:1127.92px;font-size:23.6px;letter-spacing:-0.000px;color:#131722;font-weight:bold;">Mar</div>
<div class="t" style="left:508.86px;top:1127.92px;font-size:23.6px;letter-spacing:0.000px;color:#131722;">6</div>
<div class="t" style="left:614.70px;top:1127.92px;font-size:23.6px;letter-spacing:0.000px;color:#131722;">11</div>
<div class="t" style="left:725.56px;top:1127.92px;font-size:23.6px;letter-spacing:0.000px;color:#131722;">16</div>
<div class="t" style="left:837.69px;top:1127.92px;font-size:23.6px;letter-spacing:0.000px;color:#131722;">21</div>
<div class="t" style="left:949.42px;top:1127.92px;font-size:23.6px;letter-spacing:-0.000px;color:#131722;">26</div>
<div class="t" style="left:1076.29px;top:1127.92px;font-size:23.6px;letter-spacing:0.000px;color:#131722;font-weight:bold;">Apr</div>
<div class="t" style="left:1201.90px;top:1127.92px;font-size:23.6px;letter-spacing:0.000px;color:#131722;">6</div>
<div class="t" style="left:1307.75px;top:1127.92px;font-size:23.6px;letter-spacing:0.000px;color:#131722;">11</div>
<div class="t" style="left:1418.61px;top:1127.92px;font-size:23.6px;letter-spacing:0.000px;color:#131722;">16</div>
<div class="t" style="left:1530.74px;top:1127.92px;font-size:23.6px;letter-spacing:0.000px;color:#131722;">21</div>
<div class="t" style="left:1642.47px;top:1127.92px;font-size:23.6px;letter-spacing:-0.000px;color:#131722;">26</div>
<div class="t" style="left:1743.77px;top:1127.92px;font-size:23.6px;letter-spacing:0.000px;color:#131722;font-weight:bold;">May</div>
<div class="t" style="left:1872.60px;top:1127.92px;font-size:23.6px;letter-spacing:0.000px;color:#131722;">6</div>
<div class="t" style="left:1978.44px;top:1127.92px;font-size:23.6px;letter-spacing:0.000px;color:#131722;">11</div>
<div class="t" style="left:2089.30px;top:1127.92px;font-size:23.6px;letter-spacing:-0.000px;color:#131722;">16</div>
<div class="t" style="left:2201.43px;top:1127.92px;font-size:23.6px;letter-spacing:-0.000px;color:#131722;">21</div>
<div class="t" style="left:2313.16px;top:1127.92px;font-size:23.6px;letter-spacing:0.000px;color:#131722;">26</div>
<svg style="position:absolute;left:0;top:1170px" width="60" height="50" viewBox="0 1170 60 50"><path d="M18.75 1186.4H33.3V1205.4H25.3V1193.4H18.75Z" fill="#d9dada"/><circle cx="38.9" cy="1190.4" r="3.6" fill="#d9dada"/><path d="M45.9 1186.4H56.1L48.75 1205.4H40.3Z" fill="#d9dada"/></svg>
<div class="t" style="left:62.90px;top:1184.96px;font-size:25.8px;letter-spacing:-0.219px;color:#d9dada;-webkit-text-stroke:0.4px #d9dada;">TradingView</div>
</body></html>
